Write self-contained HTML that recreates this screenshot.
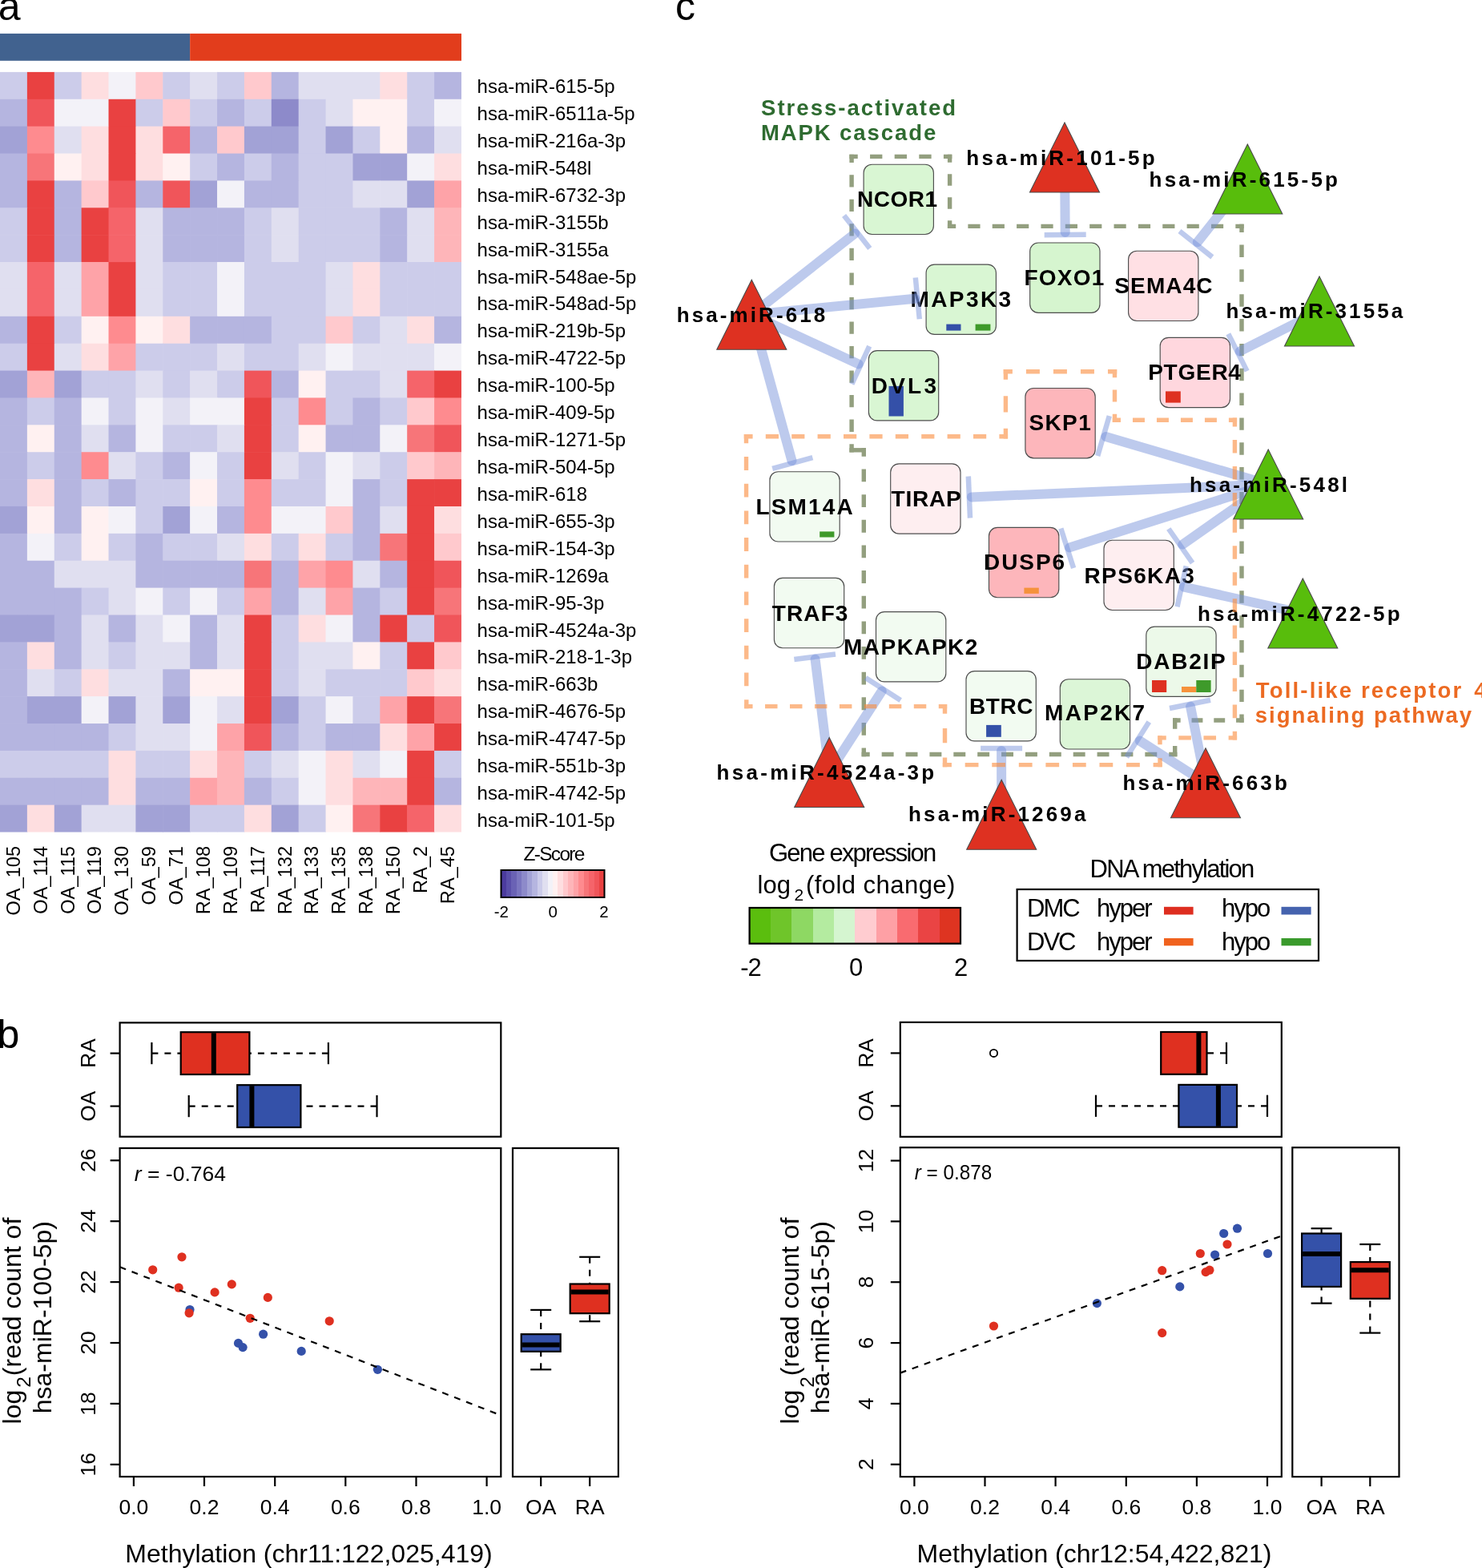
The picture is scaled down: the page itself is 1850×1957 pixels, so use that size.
<!DOCTYPE html>
<html><head><meta charset="utf-8"><title>figure</title>
<style>html,body{margin:0;padding:0;background:#fff;} svg{display:block;}</style></head>
<body><svg width="1850" height="1957" viewBox="0 0 1850 1957">
<rect width="1850" height="1957" fill="#fff"/>
<g>
<rect x="0" y="41.9" width="237.16" height="33.9" fill="#41628f"/>
<rect x="237.16" y="41.9" width="338.84" height="33.9" fill="#e23d1c"/>
<rect x="0.00" y="89.90" width="34.48" height="34.48" fill="#ccccea"/>
<rect x="33.88" y="89.90" width="34.48" height="34.48" fill="#e94141"/>
<rect x="67.76" y="89.90" width="34.48" height="34.48" fill="#ccccea"/>
<rect x="101.64" y="89.90" width="34.48" height="34.48" fill="#fedee0"/>
<rect x="135.52" y="89.90" width="34.48" height="34.48" fill="#f3f2f8"/>
<rect x="169.40" y="89.90" width="34.48" height="34.48" fill="#ffc9cd"/>
<rect x="203.28" y="89.90" width="34.48" height="34.48" fill="#ccccea"/>
<rect x="237.16" y="89.90" width="34.48" height="34.48" fill="#e0dff0"/>
<rect x="271.04" y="89.90" width="34.48" height="34.48" fill="#ccccea"/>
<rect x="304.92" y="89.90" width="34.48" height="34.48" fill="#ffc9cd"/>
<rect x="338.80" y="89.90" width="34.48" height="34.48" fill="#b5b5e0"/>
<rect x="372.68" y="89.90" width="34.48" height="34.48" fill="#e0dff0"/>
<rect x="406.56" y="89.90" width="34.48" height="34.48" fill="#e0dff0"/>
<rect x="440.44" y="89.90" width="34.48" height="34.48" fill="#e0dff0"/>
<rect x="474.32" y="89.90" width="34.48" height="34.48" fill="#fedee0"/>
<rect x="508.20" y="89.90" width="34.48" height="34.48" fill="#ccccea"/>
<rect x="542.08" y="89.90" width="33.88" height="34.48" fill="#b5b5e0"/>
<rect x="0.00" y="123.78" width="34.48" height="34.48" fill="#b5b5e0"/>
<rect x="33.88" y="123.78" width="34.48" height="34.48" fill="#f0555a"/>
<rect x="67.76" y="123.78" width="34.48" height="34.48" fill="#f3f2f8"/>
<rect x="101.64" y="123.78" width="34.48" height="34.48" fill="#f3f2f8"/>
<rect x="135.52" y="123.78" width="34.48" height="34.48" fill="#e94141"/>
<rect x="169.40" y="123.78" width="34.48" height="34.48" fill="#ccccea"/>
<rect x="203.28" y="123.78" width="34.48" height="34.48" fill="#ffc9cd"/>
<rect x="237.16" y="123.78" width="34.48" height="34.48" fill="#ccccea"/>
<rect x="271.04" y="123.78" width="34.48" height="34.48" fill="#b5b5e0"/>
<rect x="304.92" y="123.78" width="34.48" height="34.48" fill="#ccccea"/>
<rect x="338.80" y="123.78" width="34.48" height="34.48" fill="#8d8aca"/>
<rect x="372.68" y="123.78" width="34.48" height="34.48" fill="#ccccea"/>
<rect x="406.56" y="123.78" width="34.48" height="34.48" fill="#e0dff0"/>
<rect x="440.44" y="123.78" width="34.48" height="34.48" fill="#fff1f1"/>
<rect x="474.32" y="123.78" width="34.48" height="34.48" fill="#fff1f1"/>
<rect x="508.20" y="123.78" width="34.48" height="34.48" fill="#ccccea"/>
<rect x="542.08" y="123.78" width="33.88" height="34.48" fill="#f3f2f8"/>
<rect x="0.00" y="157.66" width="34.48" height="34.48" fill="#a2a2d6"/>
<rect x="33.88" y="157.66" width="34.48" height="34.48" fill="#fe8b8f"/>
<rect x="67.76" y="157.66" width="34.48" height="34.48" fill="#e0dff0"/>
<rect x="101.64" y="157.66" width="34.48" height="34.48" fill="#fedee0"/>
<rect x="135.52" y="157.66" width="34.48" height="34.48" fill="#e94141"/>
<rect x="169.40" y="157.66" width="34.48" height="34.48" fill="#fedee0"/>
<rect x="203.28" y="157.66" width="34.48" height="34.48" fill="#f5646a"/>
<rect x="237.16" y="157.66" width="34.48" height="34.48" fill="#b5b5e0"/>
<rect x="271.04" y="157.66" width="34.48" height="34.48" fill="#ffc9cd"/>
<rect x="304.92" y="157.66" width="34.48" height="34.48" fill="#a2a2d6"/>
<rect x="338.80" y="157.66" width="34.48" height="34.48" fill="#a2a2d6"/>
<rect x="372.68" y="157.66" width="34.48" height="34.48" fill="#ccccea"/>
<rect x="406.56" y="157.66" width="34.48" height="34.48" fill="#a2a2d6"/>
<rect x="440.44" y="157.66" width="34.48" height="34.48" fill="#ccccea"/>
<rect x="474.32" y="157.66" width="34.48" height="34.48" fill="#fff1f1"/>
<rect x="508.20" y="157.66" width="34.48" height="34.48" fill="#b5b5e0"/>
<rect x="542.08" y="157.66" width="33.88" height="34.48" fill="#e0dff0"/>
<rect x="0.00" y="191.54" width="34.48" height="34.48" fill="#b5b5e0"/>
<rect x="33.88" y="191.54" width="34.48" height="34.48" fill="#f77579"/>
<rect x="67.76" y="191.54" width="34.48" height="34.48" fill="#fff1f1"/>
<rect x="101.64" y="191.54" width="34.48" height="34.48" fill="#fedee0"/>
<rect x="135.52" y="191.54" width="34.48" height="34.48" fill="#e94141"/>
<rect x="169.40" y="191.54" width="34.48" height="34.48" fill="#fedee0"/>
<rect x="203.28" y="191.54" width="34.48" height="34.48" fill="#fff1f1"/>
<rect x="237.16" y="191.54" width="34.48" height="34.48" fill="#ccccea"/>
<rect x="271.04" y="191.54" width="34.48" height="34.48" fill="#b5b5e0"/>
<rect x="304.92" y="191.54" width="34.48" height="34.48" fill="#ccccea"/>
<rect x="338.80" y="191.54" width="34.48" height="34.48" fill="#b5b5e0"/>
<rect x="372.68" y="191.54" width="34.48" height="34.48" fill="#ccccea"/>
<rect x="406.56" y="191.54" width="34.48" height="34.48" fill="#ccccea"/>
<rect x="440.44" y="191.54" width="34.48" height="34.48" fill="#a2a2d6"/>
<rect x="474.32" y="191.54" width="34.48" height="34.48" fill="#a2a2d6"/>
<rect x="508.20" y="191.54" width="34.48" height="34.48" fill="#f3f2f8"/>
<rect x="542.08" y="191.54" width="33.88" height="34.48" fill="#fedee0"/>
<rect x="0.00" y="225.42" width="34.48" height="34.48" fill="#b5b5e0"/>
<rect x="33.88" y="225.42" width="34.48" height="34.48" fill="#e94141"/>
<rect x="67.76" y="225.42" width="34.48" height="34.48" fill="#b5b5e0"/>
<rect x="101.64" y="225.42" width="34.48" height="34.48" fill="#ffc9cd"/>
<rect x="135.52" y="225.42" width="34.48" height="34.48" fill="#f0555a"/>
<rect x="169.40" y="225.42" width="34.48" height="34.48" fill="#b5b5e0"/>
<rect x="203.28" y="225.42" width="34.48" height="34.48" fill="#f0555a"/>
<rect x="237.16" y="225.42" width="34.48" height="34.48" fill="#a2a2d6"/>
<rect x="271.04" y="225.42" width="34.48" height="34.48" fill="#f3f2f8"/>
<rect x="304.92" y="225.42" width="34.48" height="34.48" fill="#b5b5e0"/>
<rect x="338.80" y="225.42" width="34.48" height="34.48" fill="#b5b5e0"/>
<rect x="372.68" y="225.42" width="34.48" height="34.48" fill="#ccccea"/>
<rect x="406.56" y="225.42" width="34.48" height="34.48" fill="#ccccea"/>
<rect x="440.44" y="225.42" width="34.48" height="34.48" fill="#e0dff0"/>
<rect x="474.32" y="225.42" width="34.48" height="34.48" fill="#e0dff0"/>
<rect x="508.20" y="225.42" width="34.48" height="34.48" fill="#a2a2d6"/>
<rect x="542.08" y="225.42" width="33.88" height="34.48" fill="#fea3a8"/>
<rect x="0.00" y="259.30" width="34.48" height="34.48" fill="#ccccea"/>
<rect x="33.88" y="259.30" width="34.48" height="34.48" fill="#e94141"/>
<rect x="67.76" y="259.30" width="34.48" height="34.48" fill="#b5b5e0"/>
<rect x="101.64" y="259.30" width="34.48" height="34.48" fill="#e94141"/>
<rect x="135.52" y="259.30" width="34.48" height="34.48" fill="#f5646a"/>
<rect x="169.40" y="259.30" width="34.48" height="34.48" fill="#e0dff0"/>
<rect x="203.28" y="259.30" width="34.48" height="34.48" fill="#b5b5e0"/>
<rect x="237.16" y="259.30" width="34.48" height="34.48" fill="#b5b5e0"/>
<rect x="271.04" y="259.30" width="34.48" height="34.48" fill="#b5b5e0"/>
<rect x="304.92" y="259.30" width="34.48" height="34.48" fill="#ccccea"/>
<rect x="338.80" y="259.30" width="34.48" height="34.48" fill="#e0dff0"/>
<rect x="372.68" y="259.30" width="34.48" height="34.48" fill="#ccccea"/>
<rect x="406.56" y="259.30" width="34.48" height="34.48" fill="#ccccea"/>
<rect x="440.44" y="259.30" width="34.48" height="34.48" fill="#ccccea"/>
<rect x="474.32" y="259.30" width="34.48" height="34.48" fill="#b5b5e0"/>
<rect x="508.20" y="259.30" width="34.48" height="34.48" fill="#e0dff0"/>
<rect x="542.08" y="259.30" width="33.88" height="34.48" fill="#feb5b9"/>
<rect x="0.00" y="293.18" width="34.48" height="34.48" fill="#ccccea"/>
<rect x="33.88" y="293.18" width="34.48" height="34.48" fill="#e94141"/>
<rect x="67.76" y="293.18" width="34.48" height="34.48" fill="#b5b5e0"/>
<rect x="101.64" y="293.18" width="34.48" height="34.48" fill="#e94141"/>
<rect x="135.52" y="293.18" width="34.48" height="34.48" fill="#f5646a"/>
<rect x="169.40" y="293.18" width="34.48" height="34.48" fill="#e0dff0"/>
<rect x="203.28" y="293.18" width="34.48" height="34.48" fill="#b5b5e0"/>
<rect x="237.16" y="293.18" width="34.48" height="34.48" fill="#b5b5e0"/>
<rect x="271.04" y="293.18" width="34.48" height="34.48" fill="#b5b5e0"/>
<rect x="304.92" y="293.18" width="34.48" height="34.48" fill="#ccccea"/>
<rect x="338.80" y="293.18" width="34.48" height="34.48" fill="#e0dff0"/>
<rect x="372.68" y="293.18" width="34.48" height="34.48" fill="#ccccea"/>
<rect x="406.56" y="293.18" width="34.48" height="34.48" fill="#ccccea"/>
<rect x="440.44" y="293.18" width="34.48" height="34.48" fill="#ccccea"/>
<rect x="474.32" y="293.18" width="34.48" height="34.48" fill="#b5b5e0"/>
<rect x="508.20" y="293.18" width="34.48" height="34.48" fill="#e0dff0"/>
<rect x="542.08" y="293.18" width="33.88" height="34.48" fill="#feb5b9"/>
<rect x="0.00" y="327.06" width="34.48" height="34.48" fill="#e0dff0"/>
<rect x="33.88" y="327.06" width="34.48" height="34.48" fill="#f5646a"/>
<rect x="67.76" y="327.06" width="34.48" height="34.48" fill="#e0dff0"/>
<rect x="101.64" y="327.06" width="34.48" height="34.48" fill="#fea3a8"/>
<rect x="135.52" y="327.06" width="34.48" height="34.48" fill="#e94141"/>
<rect x="169.40" y="327.06" width="34.48" height="34.48" fill="#e0dff0"/>
<rect x="203.28" y="327.06" width="34.48" height="34.48" fill="#ccccea"/>
<rect x="237.16" y="327.06" width="34.48" height="34.48" fill="#ccccea"/>
<rect x="271.04" y="327.06" width="34.48" height="34.48" fill="#f3f2f8"/>
<rect x="304.92" y="327.06" width="34.48" height="34.48" fill="#ccccea"/>
<rect x="338.80" y="327.06" width="34.48" height="34.48" fill="#ccccea"/>
<rect x="372.68" y="327.06" width="34.48" height="34.48" fill="#ccccea"/>
<rect x="406.56" y="327.06" width="34.48" height="34.48" fill="#e0dff0"/>
<rect x="440.44" y="327.06" width="34.48" height="34.48" fill="#fedee0"/>
<rect x="474.32" y="327.06" width="34.48" height="34.48" fill="#ccccea"/>
<rect x="508.20" y="327.06" width="34.48" height="34.48" fill="#ccccea"/>
<rect x="542.08" y="327.06" width="33.88" height="34.48" fill="#ccccea"/>
<rect x="0.00" y="360.94" width="34.48" height="34.48" fill="#e0dff0"/>
<rect x="33.88" y="360.94" width="34.48" height="34.48" fill="#f5646a"/>
<rect x="67.76" y="360.94" width="34.48" height="34.48" fill="#e0dff0"/>
<rect x="101.64" y="360.94" width="34.48" height="34.48" fill="#fea3a8"/>
<rect x="135.52" y="360.94" width="34.48" height="34.48" fill="#e94141"/>
<rect x="169.40" y="360.94" width="34.48" height="34.48" fill="#e0dff0"/>
<rect x="203.28" y="360.94" width="34.48" height="34.48" fill="#ccccea"/>
<rect x="237.16" y="360.94" width="34.48" height="34.48" fill="#ccccea"/>
<rect x="271.04" y="360.94" width="34.48" height="34.48" fill="#f3f2f8"/>
<rect x="304.92" y="360.94" width="34.48" height="34.48" fill="#ccccea"/>
<rect x="338.80" y="360.94" width="34.48" height="34.48" fill="#ccccea"/>
<rect x="372.68" y="360.94" width="34.48" height="34.48" fill="#ccccea"/>
<rect x="406.56" y="360.94" width="34.48" height="34.48" fill="#e0dff0"/>
<rect x="440.44" y="360.94" width="34.48" height="34.48" fill="#fedee0"/>
<rect x="474.32" y="360.94" width="34.48" height="34.48" fill="#ccccea"/>
<rect x="508.20" y="360.94" width="34.48" height="34.48" fill="#ccccea"/>
<rect x="542.08" y="360.94" width="33.88" height="34.48" fill="#ccccea"/>
<rect x="0.00" y="394.82" width="34.48" height="34.48" fill="#b5b5e0"/>
<rect x="33.88" y="394.82" width="34.48" height="34.48" fill="#e94141"/>
<rect x="67.76" y="394.82" width="34.48" height="34.48" fill="#ccccea"/>
<rect x="101.64" y="394.82" width="34.48" height="34.48" fill="#fff1f1"/>
<rect x="135.52" y="394.82" width="34.48" height="34.48" fill="#fe8b8f"/>
<rect x="169.40" y="394.82" width="34.48" height="34.48" fill="#fff1f1"/>
<rect x="203.28" y="394.82" width="34.48" height="34.48" fill="#fedee0"/>
<rect x="237.16" y="394.82" width="34.48" height="34.48" fill="#b5b5e0"/>
<rect x="271.04" y="394.82" width="34.48" height="34.48" fill="#b5b5e0"/>
<rect x="304.92" y="394.82" width="34.48" height="34.48" fill="#b5b5e0"/>
<rect x="338.80" y="394.82" width="34.48" height="34.48" fill="#ccccea"/>
<rect x="372.68" y="394.82" width="34.48" height="34.48" fill="#ccccea"/>
<rect x="406.56" y="394.82" width="34.48" height="34.48" fill="#ffc9cd"/>
<rect x="440.44" y="394.82" width="34.48" height="34.48" fill="#ccccea"/>
<rect x="474.32" y="394.82" width="34.48" height="34.48" fill="#e0dff0"/>
<rect x="508.20" y="394.82" width="34.48" height="34.48" fill="#fedee0"/>
<rect x="542.08" y="394.82" width="33.88" height="34.48" fill="#b5b5e0"/>
<rect x="0.00" y="428.70" width="34.48" height="34.48" fill="#ccccea"/>
<rect x="33.88" y="428.70" width="34.48" height="34.48" fill="#e94141"/>
<rect x="67.76" y="428.70" width="34.48" height="34.48" fill="#e0dff0"/>
<rect x="101.64" y="428.70" width="34.48" height="34.48" fill="#fedee0"/>
<rect x="135.52" y="428.70" width="34.48" height="34.48" fill="#fea3a8"/>
<rect x="169.40" y="428.70" width="34.48" height="34.48" fill="#ccccea"/>
<rect x="203.28" y="428.70" width="34.48" height="34.48" fill="#ccccea"/>
<rect x="237.16" y="428.70" width="34.48" height="34.48" fill="#ccccea"/>
<rect x="271.04" y="428.70" width="34.48" height="34.48" fill="#e0dff0"/>
<rect x="304.92" y="428.70" width="34.48" height="34.48" fill="#ccccea"/>
<rect x="338.80" y="428.70" width="34.48" height="34.48" fill="#ccccea"/>
<rect x="372.68" y="428.70" width="34.48" height="34.48" fill="#e0dff0"/>
<rect x="406.56" y="428.70" width="34.48" height="34.48" fill="#f3f2f8"/>
<rect x="440.44" y="428.70" width="34.48" height="34.48" fill="#e0dff0"/>
<rect x="474.32" y="428.70" width="34.48" height="34.48" fill="#e0dff0"/>
<rect x="508.20" y="428.70" width="34.48" height="34.48" fill="#e0dff0"/>
<rect x="542.08" y="428.70" width="33.88" height="34.48" fill="#f3f2f8"/>
<rect x="0.00" y="462.58" width="34.48" height="34.48" fill="#a2a2d6"/>
<rect x="33.88" y="462.58" width="34.48" height="34.48" fill="#feb5b9"/>
<rect x="67.76" y="462.58" width="34.48" height="34.48" fill="#a2a2d6"/>
<rect x="101.64" y="462.58" width="34.48" height="34.48" fill="#ccccea"/>
<rect x="135.52" y="462.58" width="34.48" height="34.48" fill="#ccccea"/>
<rect x="169.40" y="462.58" width="34.48" height="34.48" fill="#e0dff0"/>
<rect x="203.28" y="462.58" width="34.48" height="34.48" fill="#ccccea"/>
<rect x="237.16" y="462.58" width="34.48" height="34.48" fill="#e0dff0"/>
<rect x="271.04" y="462.58" width="34.48" height="34.48" fill="#ccccea"/>
<rect x="304.92" y="462.58" width="34.48" height="34.48" fill="#f0555a"/>
<rect x="338.80" y="462.58" width="34.48" height="34.48" fill="#b5b5e0"/>
<rect x="372.68" y="462.58" width="34.48" height="34.48" fill="#fff1f1"/>
<rect x="406.56" y="462.58" width="34.48" height="34.48" fill="#ccccea"/>
<rect x="440.44" y="462.58" width="34.48" height="34.48" fill="#ccccea"/>
<rect x="474.32" y="462.58" width="34.48" height="34.48" fill="#e0dff0"/>
<rect x="508.20" y="462.58" width="34.48" height="34.48" fill="#f5646a"/>
<rect x="542.08" y="462.58" width="33.88" height="34.48" fill="#e94141"/>
<rect x="0.00" y="496.46" width="34.48" height="34.48" fill="#b5b5e0"/>
<rect x="33.88" y="496.46" width="34.48" height="34.48" fill="#ccccea"/>
<rect x="67.76" y="496.46" width="34.48" height="34.48" fill="#b5b5e0"/>
<rect x="101.64" y="496.46" width="34.48" height="34.48" fill="#f3f2f8"/>
<rect x="135.52" y="496.46" width="34.48" height="34.48" fill="#ccccea"/>
<rect x="169.40" y="496.46" width="34.48" height="34.48" fill="#f3f2f8"/>
<rect x="203.28" y="496.46" width="34.48" height="34.48" fill="#e0dff0"/>
<rect x="237.16" y="496.46" width="34.48" height="34.48" fill="#f3f2f8"/>
<rect x="271.04" y="496.46" width="34.48" height="34.48" fill="#f3f2f8"/>
<rect x="304.92" y="496.46" width="34.48" height="34.48" fill="#e94141"/>
<rect x="338.80" y="496.46" width="34.48" height="34.48" fill="#ccccea"/>
<rect x="372.68" y="496.46" width="34.48" height="34.48" fill="#fe8b8f"/>
<rect x="406.56" y="496.46" width="34.48" height="34.48" fill="#ccccea"/>
<rect x="440.44" y="496.46" width="34.48" height="34.48" fill="#b5b5e0"/>
<rect x="474.32" y="496.46" width="34.48" height="34.48" fill="#ccccea"/>
<rect x="508.20" y="496.46" width="34.48" height="34.48" fill="#ffc9cd"/>
<rect x="542.08" y="496.46" width="33.88" height="34.48" fill="#fe8b8f"/>
<rect x="0.00" y="530.34" width="34.48" height="34.48" fill="#b5b5e0"/>
<rect x="33.88" y="530.34" width="34.48" height="34.48" fill="#fff1f1"/>
<rect x="67.76" y="530.34" width="34.48" height="34.48" fill="#b5b5e0"/>
<rect x="101.64" y="530.34" width="34.48" height="34.48" fill="#e0dff0"/>
<rect x="135.52" y="530.34" width="34.48" height="34.48" fill="#b5b5e0"/>
<rect x="169.40" y="530.34" width="34.48" height="34.48" fill="#f3f2f8"/>
<rect x="203.28" y="530.34" width="34.48" height="34.48" fill="#ccccea"/>
<rect x="237.16" y="530.34" width="34.48" height="34.48" fill="#ccccea"/>
<rect x="271.04" y="530.34" width="34.48" height="34.48" fill="#e0dff0"/>
<rect x="304.92" y="530.34" width="34.48" height="34.48" fill="#e94141"/>
<rect x="338.80" y="530.34" width="34.48" height="34.48" fill="#ccccea"/>
<rect x="372.68" y="530.34" width="34.48" height="34.48" fill="#fff1f1"/>
<rect x="406.56" y="530.34" width="34.48" height="34.48" fill="#b5b5e0"/>
<rect x="440.44" y="530.34" width="34.48" height="34.48" fill="#b5b5e0"/>
<rect x="474.32" y="530.34" width="34.48" height="34.48" fill="#f3f2f8"/>
<rect x="508.20" y="530.34" width="34.48" height="34.48" fill="#f77579"/>
<rect x="542.08" y="530.34" width="33.88" height="34.48" fill="#f0555a"/>
<rect x="0.00" y="564.22" width="34.48" height="34.48" fill="#b5b5e0"/>
<rect x="33.88" y="564.22" width="34.48" height="34.48" fill="#ccccea"/>
<rect x="67.76" y="564.22" width="34.48" height="34.48" fill="#b5b5e0"/>
<rect x="101.64" y="564.22" width="34.48" height="34.48" fill="#fe8b8f"/>
<rect x="135.52" y="564.22" width="34.48" height="34.48" fill="#e0dff0"/>
<rect x="169.40" y="564.22" width="34.48" height="34.48" fill="#ccccea"/>
<rect x="203.28" y="564.22" width="34.48" height="34.48" fill="#b5b5e0"/>
<rect x="237.16" y="564.22" width="34.48" height="34.48" fill="#f3f2f8"/>
<rect x="271.04" y="564.22" width="34.48" height="34.48" fill="#ccccea"/>
<rect x="304.92" y="564.22" width="34.48" height="34.48" fill="#e94141"/>
<rect x="338.80" y="564.22" width="34.48" height="34.48" fill="#e0dff0"/>
<rect x="372.68" y="564.22" width="34.48" height="34.48" fill="#ccccea"/>
<rect x="406.56" y="564.22" width="34.48" height="34.48" fill="#f3f2f8"/>
<rect x="440.44" y="564.22" width="34.48" height="34.48" fill="#e0dff0"/>
<rect x="474.32" y="564.22" width="34.48" height="34.48" fill="#ccccea"/>
<rect x="508.20" y="564.22" width="34.48" height="34.48" fill="#ffc9cd"/>
<rect x="542.08" y="564.22" width="33.88" height="34.48" fill="#feb5b9"/>
<rect x="0.00" y="598.10" width="34.48" height="34.48" fill="#b5b5e0"/>
<rect x="33.88" y="598.10" width="34.48" height="34.48" fill="#fedee0"/>
<rect x="67.76" y="598.10" width="34.48" height="34.48" fill="#b5b5e0"/>
<rect x="101.64" y="598.10" width="34.48" height="34.48" fill="#ccccea"/>
<rect x="135.52" y="598.10" width="34.48" height="34.48" fill="#b5b5e0"/>
<rect x="169.40" y="598.10" width="34.48" height="34.48" fill="#ccccea"/>
<rect x="203.28" y="598.10" width="34.48" height="34.48" fill="#ccccea"/>
<rect x="237.16" y="598.10" width="34.48" height="34.48" fill="#fff1f1"/>
<rect x="271.04" y="598.10" width="34.48" height="34.48" fill="#ccccea"/>
<rect x="304.92" y="598.10" width="34.48" height="34.48" fill="#fe8b8f"/>
<rect x="338.80" y="598.10" width="34.48" height="34.48" fill="#ccccea"/>
<rect x="372.68" y="598.10" width="34.48" height="34.48" fill="#ccccea"/>
<rect x="406.56" y="598.10" width="34.48" height="34.48" fill="#f3f2f8"/>
<rect x="440.44" y="598.10" width="34.48" height="34.48" fill="#b5b5e0"/>
<rect x="474.32" y="598.10" width="34.48" height="34.48" fill="#ccccea"/>
<rect x="508.20" y="598.10" width="34.48" height="34.48" fill="#e94141"/>
<rect x="542.08" y="598.10" width="33.88" height="34.48" fill="#e94141"/>
<rect x="0.00" y="631.98" width="34.48" height="34.48" fill="#a2a2d6"/>
<rect x="33.88" y="631.98" width="34.48" height="34.48" fill="#fff1f1"/>
<rect x="67.76" y="631.98" width="34.48" height="34.48" fill="#b5b5e0"/>
<rect x="101.64" y="631.98" width="34.48" height="34.48" fill="#fff1f1"/>
<rect x="135.52" y="631.98" width="34.48" height="34.48" fill="#f3f2f8"/>
<rect x="169.40" y="631.98" width="34.48" height="34.48" fill="#ccccea"/>
<rect x="203.28" y="631.98" width="34.48" height="34.48" fill="#a2a2d6"/>
<rect x="237.16" y="631.98" width="34.48" height="34.48" fill="#f3f2f8"/>
<rect x="271.04" y="631.98" width="34.48" height="34.48" fill="#b5b5e0"/>
<rect x="304.92" y="631.98" width="34.48" height="34.48" fill="#fe8b8f"/>
<rect x="338.80" y="631.98" width="34.48" height="34.48" fill="#f3f2f8"/>
<rect x="372.68" y="631.98" width="34.48" height="34.48" fill="#f3f2f8"/>
<rect x="406.56" y="631.98" width="34.48" height="34.48" fill="#ffc9cd"/>
<rect x="440.44" y="631.98" width="34.48" height="34.48" fill="#b5b5e0"/>
<rect x="474.32" y="631.98" width="34.48" height="34.48" fill="#e0dff0"/>
<rect x="508.20" y="631.98" width="34.48" height="34.48" fill="#e94141"/>
<rect x="542.08" y="631.98" width="33.88" height="34.48" fill="#fedee0"/>
<rect x="0.00" y="665.86" width="34.48" height="34.48" fill="#b5b5e0"/>
<rect x="33.88" y="665.86" width="34.48" height="34.48" fill="#f3f2f8"/>
<rect x="67.76" y="665.86" width="34.48" height="34.48" fill="#ccccea"/>
<rect x="101.64" y="665.86" width="34.48" height="34.48" fill="#fff1f1"/>
<rect x="135.52" y="665.86" width="34.48" height="34.48" fill="#ccccea"/>
<rect x="169.40" y="665.86" width="34.48" height="34.48" fill="#b5b5e0"/>
<rect x="203.28" y="665.86" width="34.48" height="34.48" fill="#ccccea"/>
<rect x="237.16" y="665.86" width="34.48" height="34.48" fill="#ccccea"/>
<rect x="271.04" y="665.86" width="34.48" height="34.48" fill="#e0dff0"/>
<rect x="304.92" y="665.86" width="34.48" height="34.48" fill="#fedee0"/>
<rect x="338.80" y="665.86" width="34.48" height="34.48" fill="#ccccea"/>
<rect x="372.68" y="665.86" width="34.48" height="34.48" fill="#fedee0"/>
<rect x="406.56" y="665.86" width="34.48" height="34.48" fill="#ccccea"/>
<rect x="440.44" y="665.86" width="34.48" height="34.48" fill="#b5b5e0"/>
<rect x="474.32" y="665.86" width="34.48" height="34.48" fill="#f77579"/>
<rect x="508.20" y="665.86" width="34.48" height="34.48" fill="#e94141"/>
<rect x="542.08" y="665.86" width="33.88" height="34.48" fill="#ffc9cd"/>
<rect x="0.00" y="699.74" width="34.48" height="34.48" fill="#b5b5e0"/>
<rect x="33.88" y="699.74" width="34.48" height="34.48" fill="#b5b5e0"/>
<rect x="67.76" y="699.74" width="34.48" height="34.48" fill="#e0dff0"/>
<rect x="101.64" y="699.74" width="34.48" height="34.48" fill="#e0dff0"/>
<rect x="135.52" y="699.74" width="34.48" height="34.48" fill="#e0dff0"/>
<rect x="169.40" y="699.74" width="34.48" height="34.48" fill="#b5b5e0"/>
<rect x="203.28" y="699.74" width="34.48" height="34.48" fill="#b5b5e0"/>
<rect x="237.16" y="699.74" width="34.48" height="34.48" fill="#b5b5e0"/>
<rect x="271.04" y="699.74" width="34.48" height="34.48" fill="#b5b5e0"/>
<rect x="304.92" y="699.74" width="34.48" height="34.48" fill="#f77579"/>
<rect x="338.80" y="699.74" width="34.48" height="34.48" fill="#b5b5e0"/>
<rect x="372.68" y="699.74" width="34.48" height="34.48" fill="#fea3a8"/>
<rect x="406.56" y="699.74" width="34.48" height="34.48" fill="#fe8b8f"/>
<rect x="440.44" y="699.74" width="34.48" height="34.48" fill="#e0dff0"/>
<rect x="474.32" y="699.74" width="34.48" height="34.48" fill="#b5b5e0"/>
<rect x="508.20" y="699.74" width="34.48" height="34.48" fill="#e94141"/>
<rect x="542.08" y="699.74" width="33.88" height="34.48" fill="#f0555a"/>
<rect x="0.00" y="733.62" width="34.48" height="34.48" fill="#b5b5e0"/>
<rect x="33.88" y="733.62" width="34.48" height="34.48" fill="#b5b5e0"/>
<rect x="67.76" y="733.62" width="34.48" height="34.48" fill="#b5b5e0"/>
<rect x="101.64" y="733.62" width="34.48" height="34.48" fill="#ccccea"/>
<rect x="135.52" y="733.62" width="34.48" height="34.48" fill="#e0dff0"/>
<rect x="169.40" y="733.62" width="34.48" height="34.48" fill="#f3f2f8"/>
<rect x="203.28" y="733.62" width="34.48" height="34.48" fill="#ccccea"/>
<rect x="237.16" y="733.62" width="34.48" height="34.48" fill="#f3f2f8"/>
<rect x="271.04" y="733.62" width="34.48" height="34.48" fill="#ccccea"/>
<rect x="304.92" y="733.62" width="34.48" height="34.48" fill="#fea3a8"/>
<rect x="338.80" y="733.62" width="34.48" height="34.48" fill="#b5b5e0"/>
<rect x="372.68" y="733.62" width="34.48" height="34.48" fill="#e0dff0"/>
<rect x="406.56" y="733.62" width="34.48" height="34.48" fill="#fea3a8"/>
<rect x="440.44" y="733.62" width="34.48" height="34.48" fill="#b5b5e0"/>
<rect x="474.32" y="733.62" width="34.48" height="34.48" fill="#ccccea"/>
<rect x="508.20" y="733.62" width="34.48" height="34.48" fill="#e94141"/>
<rect x="542.08" y="733.62" width="33.88" height="34.48" fill="#f77579"/>
<rect x="0.00" y="767.50" width="34.48" height="34.48" fill="#a2a2d6"/>
<rect x="33.88" y="767.50" width="34.48" height="34.48" fill="#a2a2d6"/>
<rect x="67.76" y="767.50" width="34.48" height="34.48" fill="#b5b5e0"/>
<rect x="101.64" y="767.50" width="34.48" height="34.48" fill="#e0dff0"/>
<rect x="135.52" y="767.50" width="34.48" height="34.48" fill="#b5b5e0"/>
<rect x="169.40" y="767.50" width="34.48" height="34.48" fill="#e0dff0"/>
<rect x="203.28" y="767.50" width="34.48" height="34.48" fill="#f3f2f8"/>
<rect x="237.16" y="767.50" width="34.48" height="34.48" fill="#b5b5e0"/>
<rect x="271.04" y="767.50" width="34.48" height="34.48" fill="#e0dff0"/>
<rect x="304.92" y="767.50" width="34.48" height="34.48" fill="#e94141"/>
<rect x="338.80" y="767.50" width="34.48" height="34.48" fill="#ccccea"/>
<rect x="372.68" y="767.50" width="34.48" height="34.48" fill="#fedee0"/>
<rect x="406.56" y="767.50" width="34.48" height="34.48" fill="#f3f2f8"/>
<rect x="440.44" y="767.50" width="34.48" height="34.48" fill="#b5b5e0"/>
<rect x="474.32" y="767.50" width="34.48" height="34.48" fill="#e94141"/>
<rect x="508.20" y="767.50" width="34.48" height="34.48" fill="#ccccea"/>
<rect x="542.08" y="767.50" width="33.88" height="34.48" fill="#f0555a"/>
<rect x="0.00" y="801.38" width="34.48" height="34.48" fill="#b5b5e0"/>
<rect x="33.88" y="801.38" width="34.48" height="34.48" fill="#fedee0"/>
<rect x="67.76" y="801.38" width="34.48" height="34.48" fill="#b5b5e0"/>
<rect x="101.64" y="801.38" width="34.48" height="34.48" fill="#e0dff0"/>
<rect x="135.52" y="801.38" width="34.48" height="34.48" fill="#ccccea"/>
<rect x="169.40" y="801.38" width="34.48" height="34.48" fill="#e0dff0"/>
<rect x="203.28" y="801.38" width="34.48" height="34.48" fill="#e0dff0"/>
<rect x="237.16" y="801.38" width="34.48" height="34.48" fill="#b5b5e0"/>
<rect x="271.04" y="801.38" width="34.48" height="34.48" fill="#e0dff0"/>
<rect x="304.92" y="801.38" width="34.48" height="34.48" fill="#e94141"/>
<rect x="338.80" y="801.38" width="34.48" height="34.48" fill="#ccccea"/>
<rect x="372.68" y="801.38" width="34.48" height="34.48" fill="#e0dff0"/>
<rect x="406.56" y="801.38" width="34.48" height="34.48" fill="#e0dff0"/>
<rect x="440.44" y="801.38" width="34.48" height="34.48" fill="#fff1f1"/>
<rect x="474.32" y="801.38" width="34.48" height="34.48" fill="#ccccea"/>
<rect x="508.20" y="801.38" width="34.48" height="34.48" fill="#e94141"/>
<rect x="542.08" y="801.38" width="33.88" height="34.48" fill="#ffc9cd"/>
<rect x="0.00" y="835.26" width="34.48" height="34.48" fill="#b5b5e0"/>
<rect x="33.88" y="835.26" width="34.48" height="34.48" fill="#e0dff0"/>
<rect x="67.76" y="835.26" width="34.48" height="34.48" fill="#ccccea"/>
<rect x="101.64" y="835.26" width="34.48" height="34.48" fill="#fedee0"/>
<rect x="135.52" y="835.26" width="34.48" height="34.48" fill="#e0dff0"/>
<rect x="169.40" y="835.26" width="34.48" height="34.48" fill="#e0dff0"/>
<rect x="203.28" y="835.26" width="34.48" height="34.48" fill="#b5b5e0"/>
<rect x="237.16" y="835.26" width="34.48" height="34.48" fill="#fff1f1"/>
<rect x="271.04" y="835.26" width="34.48" height="34.48" fill="#fff1f1"/>
<rect x="304.92" y="835.26" width="34.48" height="34.48" fill="#e94141"/>
<rect x="338.80" y="835.26" width="34.48" height="34.48" fill="#ccccea"/>
<rect x="372.68" y="835.26" width="34.48" height="34.48" fill="#e0dff0"/>
<rect x="406.56" y="835.26" width="34.48" height="34.48" fill="#ccccea"/>
<rect x="440.44" y="835.26" width="34.48" height="34.48" fill="#ccccea"/>
<rect x="474.32" y="835.26" width="34.48" height="34.48" fill="#ccccea"/>
<rect x="508.20" y="835.26" width="34.48" height="34.48" fill="#ffc9cd"/>
<rect x="542.08" y="835.26" width="33.88" height="34.48" fill="#fedee0"/>
<rect x="0.00" y="869.14" width="34.48" height="34.48" fill="#b5b5e0"/>
<rect x="33.88" y="869.14" width="34.48" height="34.48" fill="#a2a2d6"/>
<rect x="67.76" y="869.14" width="34.48" height="34.48" fill="#a2a2d6"/>
<rect x="101.64" y="869.14" width="34.48" height="34.48" fill="#f3f2f8"/>
<rect x="135.52" y="869.14" width="34.48" height="34.48" fill="#a2a2d6"/>
<rect x="169.40" y="869.14" width="34.48" height="34.48" fill="#e0dff0"/>
<rect x="203.28" y="869.14" width="34.48" height="34.48" fill="#a2a2d6"/>
<rect x="237.16" y="869.14" width="34.48" height="34.48" fill="#f3f2f8"/>
<rect x="271.04" y="869.14" width="34.48" height="34.48" fill="#e0dff0"/>
<rect x="304.92" y="869.14" width="34.48" height="34.48" fill="#e94141"/>
<rect x="338.80" y="869.14" width="34.48" height="34.48" fill="#a2a2d6"/>
<rect x="372.68" y="869.14" width="34.48" height="34.48" fill="#ccccea"/>
<rect x="406.56" y="869.14" width="34.48" height="34.48" fill="#f3f2f8"/>
<rect x="440.44" y="869.14" width="34.48" height="34.48" fill="#ccccea"/>
<rect x="474.32" y="869.14" width="34.48" height="34.48" fill="#fea3a8"/>
<rect x="508.20" y="869.14" width="34.48" height="34.48" fill="#e94141"/>
<rect x="542.08" y="869.14" width="33.88" height="34.48" fill="#f77579"/>
<rect x="0.00" y="903.02" width="34.48" height="34.48" fill="#b5b5e0"/>
<rect x="33.88" y="903.02" width="34.48" height="34.48" fill="#b5b5e0"/>
<rect x="67.76" y="903.02" width="34.48" height="34.48" fill="#b5b5e0"/>
<rect x="101.64" y="903.02" width="34.48" height="34.48" fill="#b5b5e0"/>
<rect x="135.52" y="903.02" width="34.48" height="34.48" fill="#ccccea"/>
<rect x="169.40" y="903.02" width="34.48" height="34.48" fill="#e0dff0"/>
<rect x="203.28" y="903.02" width="34.48" height="34.48" fill="#e0dff0"/>
<rect x="237.16" y="903.02" width="34.48" height="34.48" fill="#f3f2f8"/>
<rect x="271.04" y="903.02" width="34.48" height="34.48" fill="#fea3a8"/>
<rect x="304.92" y="903.02" width="34.48" height="34.48" fill="#f0555a"/>
<rect x="338.80" y="903.02" width="34.48" height="34.48" fill="#b5b5e0"/>
<rect x="372.68" y="903.02" width="34.48" height="34.48" fill="#ccccea"/>
<rect x="406.56" y="903.02" width="34.48" height="34.48" fill="#b5b5e0"/>
<rect x="440.44" y="903.02" width="34.48" height="34.48" fill="#b5b5e0"/>
<rect x="474.32" y="903.02" width="34.48" height="34.48" fill="#fedee0"/>
<rect x="508.20" y="903.02" width="34.48" height="34.48" fill="#fea3a8"/>
<rect x="542.08" y="903.02" width="33.88" height="34.48" fill="#e94141"/>
<rect x="0.00" y="936.90" width="34.48" height="34.48" fill="#ccccea"/>
<rect x="33.88" y="936.90" width="34.48" height="34.48" fill="#ccccea"/>
<rect x="67.76" y="936.90" width="34.48" height="34.48" fill="#ccccea"/>
<rect x="101.64" y="936.90" width="34.48" height="34.48" fill="#ccccea"/>
<rect x="135.52" y="936.90" width="34.48" height="34.48" fill="#fedee0"/>
<rect x="169.40" y="936.90" width="34.48" height="34.48" fill="#ccccea"/>
<rect x="203.28" y="936.90" width="34.48" height="34.48" fill="#ccccea"/>
<rect x="237.16" y="936.90" width="34.48" height="34.48" fill="#fedee0"/>
<rect x="271.04" y="936.90" width="34.48" height="34.48" fill="#feb5b9"/>
<rect x="304.92" y="936.90" width="34.48" height="34.48" fill="#ccccea"/>
<rect x="338.80" y="936.90" width="34.48" height="34.48" fill="#e0dff0"/>
<rect x="372.68" y="936.90" width="34.48" height="34.48" fill="#f3f2f8"/>
<rect x="406.56" y="936.90" width="34.48" height="34.48" fill="#fedee0"/>
<rect x="440.44" y="936.90" width="34.48" height="34.48" fill="#e0dff0"/>
<rect x="474.32" y="936.90" width="34.48" height="34.48" fill="#f3f2f8"/>
<rect x="508.20" y="936.90" width="34.48" height="34.48" fill="#e94141"/>
<rect x="542.08" y="936.90" width="33.88" height="34.48" fill="#ccccea"/>
<rect x="0.00" y="970.78" width="34.48" height="34.48" fill="#b5b5e0"/>
<rect x="33.88" y="970.78" width="34.48" height="34.48" fill="#b5b5e0"/>
<rect x="67.76" y="970.78" width="34.48" height="34.48" fill="#b5b5e0"/>
<rect x="101.64" y="970.78" width="34.48" height="34.48" fill="#b5b5e0"/>
<rect x="135.52" y="970.78" width="34.48" height="34.48" fill="#fedee0"/>
<rect x="169.40" y="970.78" width="34.48" height="34.48" fill="#b5b5e0"/>
<rect x="203.28" y="970.78" width="34.48" height="34.48" fill="#b5b5e0"/>
<rect x="237.16" y="970.78" width="34.48" height="34.48" fill="#fea3a8"/>
<rect x="271.04" y="970.78" width="34.48" height="34.48" fill="#feb5b9"/>
<rect x="304.92" y="970.78" width="34.48" height="34.48" fill="#b5b5e0"/>
<rect x="338.80" y="970.78" width="34.48" height="34.48" fill="#ccccea"/>
<rect x="372.68" y="970.78" width="34.48" height="34.48" fill="#f3f2f8"/>
<rect x="406.56" y="970.78" width="34.48" height="34.48" fill="#fedee0"/>
<rect x="440.44" y="970.78" width="34.48" height="34.48" fill="#feb5b9"/>
<rect x="474.32" y="970.78" width="34.48" height="34.48" fill="#feb5b9"/>
<rect x="508.20" y="970.78" width="34.48" height="34.48" fill="#e94141"/>
<rect x="542.08" y="970.78" width="33.88" height="34.48" fill="#b5b5e0"/>
<rect x="0.00" y="1004.66" width="34.48" height="33.88" fill="#a2a2d6"/>
<rect x="33.88" y="1004.66" width="34.48" height="33.88" fill="#fedee0"/>
<rect x="67.76" y="1004.66" width="34.48" height="33.88" fill="#a2a2d6"/>
<rect x="101.64" y="1004.66" width="34.48" height="33.88" fill="#e0dff0"/>
<rect x="135.52" y="1004.66" width="34.48" height="33.88" fill="#e0dff0"/>
<rect x="169.40" y="1004.66" width="34.48" height="33.88" fill="#a2a2d6"/>
<rect x="203.28" y="1004.66" width="34.48" height="33.88" fill="#a2a2d6"/>
<rect x="237.16" y="1004.66" width="34.48" height="33.88" fill="#ccccea"/>
<rect x="271.04" y="1004.66" width="34.48" height="33.88" fill="#ccccea"/>
<rect x="304.92" y="1004.66" width="34.48" height="33.88" fill="#fedee0"/>
<rect x="338.80" y="1004.66" width="34.48" height="33.88" fill="#a2a2d6"/>
<rect x="372.68" y="1004.66" width="34.48" height="33.88" fill="#ccccea"/>
<rect x="406.56" y="1004.66" width="34.48" height="33.88" fill="#fff1f1"/>
<rect x="440.44" y="1004.66" width="34.48" height="33.88" fill="#f77579"/>
<rect x="474.32" y="1004.66" width="34.48" height="33.88" fill="#e94141"/>
<rect x="508.20" y="1004.66" width="34.48" height="33.88" fill="#f5646a"/>
<rect x="542.08" y="1004.66" width="33.88" height="33.88" fill="#fedee0"/>
</g>
<g font-family="'Liberation Sans', Arial, Helvetica, sans-serif" font-size="24" fill="#000">
<text x="595.6" y="116.0">hsa-miR-615-5p</text>
<text x="595.6" y="149.9">hsa-miR-6511a-5p</text>
<text x="595.6" y="183.8">hsa-miR-216a-3p</text>
<text x="595.6" y="217.8">hsa-miR-548l</text>
<text x="595.6" y="251.7">hsa-miR-6732-3p</text>
<text x="595.6" y="285.6">hsa-miR-3155b</text>
<text x="595.6" y="319.5">hsa-miR-3155a</text>
<text x="595.6" y="353.5">hsa-miR-548ae-5p</text>
<text x="595.6" y="387.4">hsa-miR-548ad-5p</text>
<text x="595.6" y="421.3">hsa-miR-219b-5p</text>
<text x="595.6" y="455.2">hsa-miR-4722-5p</text>
<text x="595.6" y="489.2">hsa-miR-100-5p</text>
<text x="595.6" y="523.1">hsa-miR-409-5p</text>
<text x="595.6" y="557.0">hsa-miR-1271-5p</text>
<text x="595.6" y="590.9">hsa-miR-504-5p</text>
<text x="595.6" y="624.9">hsa-miR-618</text>
<text x="595.6" y="658.8">hsa-miR-655-3p</text>
<text x="595.6" y="692.7">hsa-miR-154-3p</text>
<text x="595.6" y="726.6">hsa-miR-1269a</text>
<text x="595.6" y="760.6">hsa-miR-95-3p</text>
<text x="595.6" y="794.5">hsa-miR-4524a-3p</text>
<text x="595.6" y="828.4">hsa-miR-218-1-3p</text>
<text x="595.6" y="862.3">hsa-miR-663b</text>
<text x="595.6" y="896.3">hsa-miR-4676-5p</text>
<text x="595.6" y="930.2">hsa-miR-4747-5p</text>
<text x="595.6" y="964.1">hsa-miR-551b-3p</text>
<text x="595.6" y="998.0">hsa-miR-4742-5p</text>
<text x="595.6" y="1031.9">hsa-miR-101-5p</text>
</g>
<g font-family="'Liberation Sans', Arial, Helvetica, sans-serif" font-size="23.6" fill="#000" text-anchor="end">
<text transform="translate(24.7,1056) rotate(-90)">OA_105</text>
<text transform="translate(58.6,1056) rotate(-90)">OA_114</text>
<text transform="translate(92.5,1056) rotate(-90)">OA_115</text>
<text transform="translate(126.4,1056) rotate(-90)">OA_119</text>
<text transform="translate(160.3,1056) rotate(-90)">OA_130</text>
<text transform="translate(194.1,1056) rotate(-90)">OA_59</text>
<text transform="translate(228.0,1056) rotate(-90)">OA_71</text>
<text transform="translate(261.9,1056) rotate(-90)">RA_108</text>
<text transform="translate(295.8,1056) rotate(-90)">RA_109</text>
<text transform="translate(329.7,1056) rotate(-90)">RA_117</text>
<text transform="translate(363.5,1056) rotate(-90)">RA_132</text>
<text transform="translate(397.4,1056) rotate(-90)">RA_133</text>
<text transform="translate(431.3,1056) rotate(-90)">RA_135</text>
<text transform="translate(465.2,1056) rotate(-90)">RA_138</text>
<text transform="translate(499.1,1056) rotate(-90)">RA_150</text>
<text transform="translate(532.9,1056) rotate(-90)">RA_2</text>
<text transform="translate(566.8,1056) rotate(-90)">RA_45</text>
</g>
<text x="691.1" y="1073.7" font-family="'Liberation Sans', Arial, Helvetica, sans-serif" font-size="24.5" text-anchor="middle" letter-spacing="-1.7">Z-Score</text>
<g shape-rendering="crispEdges">
<rect x="625.50" y="1086" width="6.85" height="34" fill="#4b3b9e"/>
<rect x="631.95" y="1086" width="6.85" height="34" fill="#5a4faa"/>
<rect x="638.40" y="1086" width="6.85" height="34" fill="#6a62b5"/>
<rect x="644.85" y="1086" width="6.85" height="34" fill="#7b76c0"/>
<rect x="651.30" y="1086" width="6.85" height="34" fill="#8d8aca"/>
<rect x="657.75" y="1086" width="6.85" height="34" fill="#a2a2d6"/>
<rect x="664.20" y="1086" width="6.85" height="34" fill="#b5b5e0"/>
<rect x="670.65" y="1086" width="6.85" height="34" fill="#ccccea"/>
<rect x="677.10" y="1086" width="6.85" height="34" fill="#e0dff0"/>
<rect x="683.55" y="1086" width="6.85" height="34" fill="#f3f2f8"/>
<rect x="690.00" y="1086" width="6.85" height="34" fill="#fff1f1"/>
<rect x="696.45" y="1086" width="6.85" height="34" fill="#fedee0"/>
<rect x="702.90" y="1086" width="6.85" height="34" fill="#ffc9cd"/>
<rect x="709.35" y="1086" width="6.85" height="34" fill="#feb5b9"/>
<rect x="715.80" y="1086" width="6.85" height="34" fill="#fea3a8"/>
<rect x="722.25" y="1086" width="6.85" height="34" fill="#fe8b8f"/>
<rect x="728.70" y="1086" width="6.85" height="34" fill="#f77579"/>
<rect x="735.15" y="1086" width="6.85" height="34" fill="#f5646a"/>
<rect x="741.60" y="1086" width="6.85" height="34" fill="#f0555a"/>
<rect x="748.05" y="1086" width="6.85" height="34" fill="#e94141"/>
</g>
<rect x="625.5" y="1086" width="129.0" height="34" fill="none" stroke="#000" stroke-width="2"/>
<g font-family="'Liberation Sans', Arial, Helvetica, sans-serif" font-size="20.5" text-anchor="middle">
<text x="625.8" y="1144.9">-2</text><text x="690.3" y="1144.9">0</text><text x="754" y="1144.9">2</text>
</g>
<g font-family="'Liberation Sans', Arial, Helvetica, sans-serif" font-size="50">
<text x="-2.3" y="25.4">a</text>
<text x="843.1" y="25.4">c</text>
<text x="-3.5" y="1308.2">b</text>
</g>
<path d="M1063.1,195.4 L1185.6,195.4" fill="none" stroke="#939f7f" stroke-width="5.4" stroke-linecap="square" stroke-dasharray="9.91 20.71" stroke-dashoffset="4.96"/>
<path d="M1185.6,195.4 L1185.6,282.4" fill="none" stroke="#939f7f" stroke-width="5.4" stroke-linecap="square" stroke-dasharray="9.10 19.90" stroke-dashoffset="4.55"/>
<path d="M1185.6,282.4 L1550.0,282.4" fill="none" stroke="#939f7f" stroke-width="5.4" stroke-linecap="square" stroke-dasharray="9.78 20.58" stroke-dashoffset="4.89"/>
<path d="M1550.0,282.4 L1550.0,899.0" fill="none" stroke="#939f7f" stroke-width="5.4" stroke-linecap="square" stroke-dasharray="10.02 20.82" stroke-dashoffset="5.01"/>
<path d="M1550.0,899.0 L1466.7,899.0" fill="none" stroke="#939f7f" stroke-width="5.4" stroke-linecap="square" stroke-dasharray="8.48 19.28" stroke-dashoffset="4.24"/>
<path d="M1466.7,899.0 L1466.7,941.5" fill="none" stroke="#939f7f" stroke-width="5.4" stroke-linecap="square" stroke-dasharray="15.85 26.65" stroke-dashoffset="7.92"/>
<path d="M1466.7,941.5 L1078.3,941.5" fill="none" stroke="#939f7f" stroke-width="5.4" stroke-linecap="square" stroke-dasharray="9.54 20.34" stroke-dashoffset="4.77"/>
<path d="M1078.3,941.5 L1078.3,561.8" fill="none" stroke="#939f7f" stroke-width="5.4" stroke-linecap="square" stroke-dasharray="10.42 21.22" stroke-dashoffset="5.21"/>
<path d="M1078.3,561.8 L1063.1,561.8" fill="none" stroke="#939f7f" stroke-width="5.4" stroke-linecap="square"/>
<path d="M1063.1,561.8 L1063.1,195.4" fill="none" stroke="#939f7f" stroke-width="5.4" stroke-linecap="square" stroke-dasharray="9.87 20.67" stroke-dashoffset="4.93"/>
<rect x="1078.1" y="205.2" width="87.3" height="87.3" rx="10.5" ry="10.5" fill="#d9f6d3" stroke="#4d4d4d" stroke-width="1.15"/>
<rect x="1285.7" y="303.0" width="87.3" height="87.3" rx="10.5" ry="10.5" fill="#d6f5cf" stroke="#4d4d4d" stroke-width="1.15"/>
<rect x="1408.6" y="313.2" width="87.3" height="87.3" rx="10.5" ry="10.5" fill="#ffe0e4" stroke="#4d4d4d" stroke-width="1.15"/>
<rect x="1156.1" y="330.1" width="87.3" height="87.3" rx="10.5" ry="10.5" fill="#d9f6d3" stroke="#4d4d4d" stroke-width="1.15"/>
<rect x="1448.2" y="421.3" width="87.3" height="87.3" rx="10.5" ry="10.5" fill="#ffd7de" stroke="#4d4d4d" stroke-width="1.15"/>
<rect x="1084.4" y="437.6" width="87.3" height="87.3" rx="10.5" ry="10.5" fill="#d9f6d3" stroke="#4d4d4d" stroke-width="1.15"/>
<rect x="1279.9" y="484.5" width="87.3" height="87.3" rx="10.5" ry="10.5" fill="#fdb6bb" stroke="#4d4d4d" stroke-width="1.15"/>
<rect x="960.9" y="588.7" width="87.3" height="87.3" rx="10.5" ry="10.5" fill="#f2fbf1" stroke="#4d4d4d" stroke-width="1.15"/>
<rect x="1111.7" y="578.8" width="87.3" height="87.3" rx="10.5" ry="10.5" fill="#feeef0" stroke="#4d4d4d" stroke-width="1.15"/>
<rect x="1234.5" y="658.4" width="87.3" height="87.3" rx="10.5" ry="10.5" fill="#fdb6bb" stroke="#4d4d4d" stroke-width="1.15"/>
<rect x="1378.0" y="674.2" width="87.3" height="87.3" rx="10.5" ry="10.5" fill="#feeef0" stroke="#4d4d4d" stroke-width="1.15"/>
<rect x="966.4" y="721.4" width="87.3" height="87.3" rx="10.5" ry="10.5" fill="#f2fbf1" stroke="#4d4d4d" stroke-width="1.15"/>
<rect x="1093.5" y="763.6" width="87.3" height="87.3" rx="10.5" ry="10.5" fill="#f2fbf1" stroke="#4d4d4d" stroke-width="1.15"/>
<rect x="1430.8" y="782.1" width="87.3" height="87.3" rx="10.5" ry="10.5" fill="#ecf9e9" stroke="#4d4d4d" stroke-width="1.15"/>
<rect x="1206.0" y="837.6" width="87.3" height="87.3" rx="10.5" ry="10.5" fill="#f2fbf1" stroke="#4d4d4d" stroke-width="1.15"/>
<rect x="1323.3" y="847.7" width="87.3" height="87.3" rx="10.5" ry="10.5" fill="#dcf6d7" stroke="#4d4d4d" stroke-width="1.15"/>
<rect x="1181.3" y="404.6" width="18.2" height="8.0" fill="#3450a8"/>
<rect x="1217.6" y="404.6" width="18.8" height="8.0" fill="#3e9a2a"/>
<rect x="1109.5" y="481.9" width="18.4" height="37.6" fill="#3450a8"/>
<rect x="1455.0" y="488.4" width="18.8" height="14.2" fill="#de3121"/>
<rect x="1023.2" y="663.4" width="18.2" height="7.1" fill="#3e9a2a"/>
<rect x="1278.4" y="733.6" width="18.4" height="7.3" fill="#f5923c"/>
<rect x="1438.0" y="849.0" width="18.2" height="15.0" fill="#de3121"/>
<rect x="1475.0" y="857.0" width="18.3" height="7.0" fill="#f5923c"/>
<rect x="1493.3" y="849.0" width="18.3" height="15.0" fill="#3e9a2a"/>
<rect x="1231.1" y="904.9" width="18.7" height="14.9" fill="#3450a8"/>
<g font-family="'Liberation Sans', Arial, Helvetica, sans-serif">
<text x="1070.0" y="258.3" font-size="28.0" font-weight="bold" letter-spacing="0.54" fill="#000">NCOR1</text>
<text x="1278.5" y="356.2" font-size="28.0" font-weight="bold" letter-spacing="1.23" fill="#000">FOXO1</text>
<text x="1391.3" y="366.4" font-size="28.0" font-weight="bold" letter-spacing="1.12" fill="#000">SEMA4C</text>
<text x="1136.4" y="382.8" font-size="28.0" font-weight="bold" letter-spacing="2.44" fill="#000">MAP3K3</text>
<text x="1433.2" y="473.9" font-size="28.0" font-weight="bold" letter-spacing="0.74" fill="#000">PTGER4</text>
<text x="1087.7" y="490.8" font-size="28.0" font-weight="bold" letter-spacing="3.23" fill="#000">DVL3</text>
<text x="1284.4" y="537.0" font-size="28.0" font-weight="bold" letter-spacing="1.40" fill="#000">SKP1</text>
<text x="943.5" y="642.1" font-size="28.0" font-weight="bold" letter-spacing="2.14" fill="#000">LSM14A</text>
<text x="1112.5" y="632.0" font-size="28.0" font-weight="bold" letter-spacing="0.82" fill="#000">TIRAP</text>
<text x="1228.0" y="711.0" font-size="28.0" font-weight="bold" letter-spacing="1.93" fill="#000">DUSP6</text>
<text x="1353.5" y="727.7" font-size="28.0" font-weight="bold" letter-spacing="1.37" fill="#000">RPS6KA3</text>
<text x="963.8" y="775.3" font-size="28.0" font-weight="bold" letter-spacing="1.10" fill="#000">TRAF3</text>
<text x="1053.1" y="817.3" font-size="28.0" font-weight="bold" letter-spacing="1.44" fill="#000">MAPKAPK2</text>
<text x="1418.3" y="835.0" font-size="28.0" font-weight="bold" letter-spacing="1.74" fill="#000">DAB2IP</text>
<text x="1209.9" y="891.2" font-size="28.0" font-weight="bold" letter-spacing="0.63" fill="#000">BTRC</text>
<text x="1304.0" y="899.0" font-size="28.0" font-weight="bold" letter-spacing="2.32" fill="#000">MAP2K7</text>
</g>
<g>
<line x1="938.3" y1="392.7" x2="1067.3" y2="291.4" stroke="rgba(118,145,218,0.48)" stroke-width="12" stroke-linecap="round"/>
<line x1="1053.6" y1="269.1" x2="1085.8" y2="309.9" stroke="rgba(118,145,218,0.48)" stroke-width="6.5"/>
<line x1="938.3" y1="392.7" x2="1142.3" y2="372.7" stroke="rgba(118,145,218,0.48)" stroke-width="12" stroke-linecap="round"/>
<line x1="1142.8" y1="346.5" x2="1147.8" y2="398.3" stroke="rgba(118,145,218,0.48)" stroke-width="6.5"/>
<line x1="938.3" y1="392.7" x2="1071.6" y2="454.4" stroke="rgba(118,145,218,0.48)" stroke-width="12" stroke-linecap="round"/>
<line x1="1085.2" y1="432.1" x2="1063.4" y2="479.3" stroke="rgba(118,145,218,0.48)" stroke-width="6.5"/>
<line x1="938.3" y1="392.7" x2="988.5" y2="575.1" stroke="rgba(118,145,218,0.48)" stroke-width="12" stroke-linecap="round"/>
<line x1="1014.4" y1="571.1" x2="964.2" y2="584.9" stroke="rgba(118,145,218,0.48)" stroke-width="6.5"/>
<line x1="1329.0" y1="196.5" x2="1329.7" y2="290.0" stroke="rgba(118,145,218,0.48)" stroke-width="12" stroke-linecap="round"/>
<line x1="1355.7" y1="292.8" x2="1303.7" y2="293.2" stroke="rgba(118,145,218,0.48)" stroke-width="6.5"/>
<line x1="1557.3" y1="223.5" x2="1494.8" y2="302.3" stroke="rgba(118,145,218,0.48)" stroke-width="12" stroke-linecap="round"/>
<line x1="1513.3" y1="320.9" x2="1472.5" y2="288.5" stroke="rgba(118,145,218,0.48)" stroke-width="6.5"/>
<line x1="1647.0" y1="388.5" x2="1547.7" y2="438.5" stroke="rgba(118,145,218,0.48)" stroke-width="12" stroke-linecap="round"/>
<line x1="1556.7" y1="463.1" x2="1533.3" y2="416.7" stroke="rgba(118,145,218,0.48)" stroke-width="6.5"/>
<line x1="1583.2" y1="604.5" x2="1380.4" y2="544.9" stroke="rgba(118,145,218,0.48)" stroke-width="12" stroke-linecap="round"/>
<line x1="1370.2" y1="569.0" x2="1384.8" y2="519.2" stroke="rgba(118,145,218,0.48)" stroke-width="6.5"/>
<line x1="1583.2" y1="604.5" x2="1212.9" y2="620.4" stroke="rgba(118,145,218,0.48)" stroke-width="12" stroke-linecap="round"/>
<line x1="1211.0" y1="646.5" x2="1208.8" y2="594.5" stroke="rgba(118,145,218,0.48)" stroke-width="6.5"/>
<line x1="1583.2" y1="604.5" x2="1335.1" y2="683.4" stroke="rgba(118,145,218,0.48)" stroke-width="12" stroke-linecap="round"/>
<line x1="1340.1" y1="709.1" x2="1324.3" y2="659.5" stroke="rgba(118,145,218,0.48)" stroke-width="6.5"/>
<line x1="1583.2" y1="604.5" x2="1476.2" y2="679.6" stroke="rgba(118,145,218,0.48)" stroke-width="12" stroke-linecap="round"/>
<line x1="1488.6" y1="702.6" x2="1458.8" y2="660.0" stroke="rgba(118,145,218,0.48)" stroke-width="6.5"/>
<line x1="1626.3" y1="765.5" x2="1478.0" y2="732.6" stroke="rgba(118,145,218,0.48)" stroke-width="12" stroke-linecap="round"/>
<line x1="1469.5" y1="757.3" x2="1480.7" y2="706.5" stroke="rgba(118,145,218,0.48)" stroke-width="6.5"/>
<line x1="1035.2" y1="964.0" x2="1017.6" y2="822.7" stroke="rgba(118,145,218,0.48)" stroke-width="12" stroke-linecap="round"/>
<line x1="991.4" y1="822.9" x2="1043.0" y2="816.5" stroke="rgba(118,145,218,0.48)" stroke-width="6.5"/>
<line x1="1035.2" y1="964.0" x2="1100.8" y2="862.5" stroke="rgba(118,145,218,0.48)" stroke-width="12" stroke-linecap="round"/>
<line x1="1080.6" y1="845.9" x2="1124.2" y2="874.1" stroke="rgba(118,145,218,0.48)" stroke-width="6.5"/>
<line x1="1250.2" y1="1016.8" x2="1250.1" y2="937.0" stroke="rgba(118,145,218,0.48)" stroke-width="12" stroke-linecap="round"/>
<line x1="1224.1" y1="934.0" x2="1276.1" y2="934.0" stroke="rgba(118,145,218,0.48)" stroke-width="6.5"/>
<line x1="1505.0" y1="977.2" x2="1422.8" y2="924.6" stroke="rgba(118,145,218,0.48)" stroke-width="12" stroke-linecap="round"/>
<line x1="1406.3" y1="944.9" x2="1434.3" y2="901.1" stroke="rgba(118,145,218,0.48)" stroke-width="6.5"/>
<line x1="1505.0" y1="977.2" x2="1486.1" y2="881.8" stroke="rgba(118,145,218,0.48)" stroke-width="12" stroke-linecap="round"/>
<line x1="1460.0" y1="884.0" x2="1511.0" y2="873.8" stroke="rgba(118,145,218,0.48)" stroke-width="6.5"/>
</g>
<path d="M1329.0,153.0 L1372.5,240.0 L1285.5,240.0 Z" fill="#de3121" stroke="#4a4a4a" stroke-width="1.1" stroke-linejoin="miter"/>
<path d="M1557.3,180.0 L1600.8,267.0 L1513.8,267.0 Z" fill="#58bd0c" stroke="#4a4a4a" stroke-width="1.1" stroke-linejoin="miter"/>
<path d="M938.3,349.2 L981.8,436.2 L894.8,436.2 Z" fill="#de3121" stroke="#4a4a4a" stroke-width="1.1" stroke-linejoin="miter"/>
<path d="M1647.0,345.0 L1690.5,432.0 L1603.5,432.0 Z" fill="#58bd0c" stroke="#4a4a4a" stroke-width="1.1" stroke-linejoin="miter"/>
<path d="M1583.2,561.0 L1626.7,648.0 L1539.7,648.0 Z" fill="#58bd0c" stroke="#4a4a4a" stroke-width="1.1" stroke-linejoin="miter"/>
<path d="M1626.3,722.0 L1669.8,809.0 L1582.8,809.0 Z" fill="#58bd0c" stroke="#4a4a4a" stroke-width="1.1" stroke-linejoin="miter"/>
<path d="M1035.2,920.5 L1078.7,1007.5 L991.7,1007.5 Z" fill="#de3121" stroke="#4a4a4a" stroke-width="1.1" stroke-linejoin="miter"/>
<path d="M1250.2,973.3 L1293.7,1060.3 L1206.7,1060.3 Z" fill="#de3121" stroke="#4a4a4a" stroke-width="1.1" stroke-linejoin="miter"/>
<path d="M1505.0,933.7 L1548.5,1020.7 L1461.5,1020.7 Z" fill="#de3121" stroke="#4a4a4a" stroke-width="1.1" stroke-linejoin="miter"/>
<g font-family="'Liberation Sans', Arial, Helvetica, sans-serif">
<text x="1206.3" y="205.6" font-size="26.0" font-weight="bold" letter-spacing="3.21" fill="#000">hsa-miR-101-5p</text>
<text x="1434.6" y="232.5" font-size="26.0" font-weight="bold" letter-spacing="3.21" fill="#000">hsa-miR-615-5p</text>
<text x="844.7" y="401.9" font-size="26.0" font-weight="bold" letter-spacing="3.10" fill="#000">hsa-miR-618</text>
<text x="1530.5" y="397.2" font-size="26.0" font-weight="bold" letter-spacing="3.10" fill="#000">hsa-miR-3155a</text>
<text x="1484.9" y="613.8" font-size="26.0" font-weight="bold" letter-spacing="3.21" fill="#000">hsa-miR-548l</text>
<text x="1495.0" y="774.8" font-size="26.0" font-weight="bold" letter-spacing="3.18" fill="#000">hsa-miR-4722-5p</text>
<text x="894.6" y="972.9" font-size="26.0" font-weight="bold" letter-spacing="3.27" fill="#000">hsa-miR-4524a-3p</text>
<text x="1134.0" y="1024.9" font-size="26.0" font-weight="bold" letter-spacing="3.15" fill="#000">hsa-miR-1269a</text>
<text x="1401.4" y="986.0" font-size="26.0" font-weight="bold" letter-spacing="3.18" fill="#000">hsa-miR-663b</text>
<text x="950.0" y="143.7" font-size="27.5" font-weight="bold" letter-spacing="2.04" fill="#2e6b30">Stress-activated</text>
<text x="949.9" y="175.4" font-size="27.5" font-weight="bold" letter-spacing="1.92" fill="#2e6b30">MAPK cascade</text>
<text x="1567.8" y="871.4" font-size="27.5" font-weight="bold" letter-spacing="2.17" fill="#ec6a22">Toll-like receptor <tspan dx="4">4</tspan></text>
<text x="1566.8" y="902.4" font-size="27.5" font-weight="bold" letter-spacing="1.99" fill="#ec6a22">signaling pathway</text>
</g>
<g opacity="0.6">
<path d="M931.5,544.8 L1255.4,544.8" fill="none" stroke="rgb(251,140,60)" stroke-width="5.4" stroke-linecap="square" stroke-dasharray="10.80 21.60" stroke-dashoffset="5.40"/>
<path d="M1255.4,544.8 L1255.4,463.7" fill="none" stroke="rgb(251,140,60)" stroke-width="5.4" stroke-linecap="square" stroke-dasharray="14.87 25.67" stroke-dashoffset="7.44"/>
<path d="M1255.4,463.7 L1391.5,463.7" fill="none" stroke="rgb(251,140,60)" stroke-width="5.4" stroke-linecap="square" stroke-dasharray="11.61 22.41" stroke-dashoffset="5.81"/>
<path d="M1391.5,463.7 L1391.5,524.2" fill="none" stroke="rgb(251,140,60)" stroke-width="5.4" stroke-linecap="square" stroke-dasharray="9.73 20.53" stroke-dashoffset="4.86"/>
<path d="M1391.5,524.2 L1541.4,524.2" fill="none" stroke="rgb(251,140,60)" stroke-width="5.4" stroke-linecap="square" stroke-dasharray="9.59 20.39" stroke-dashoffset="4.80"/>
<path d="M1541.4,524.2 L1541.4,920.9" fill="none" stroke="rgb(251,140,60)" stroke-width="5.4" stroke-linecap="square" stroke-dasharray="11.13 21.93" stroke-dashoffset="5.56"/>
<path d="M1541.4,920.9 L1448.0,920.9" fill="none" stroke="rgb(251,140,60)" stroke-width="5.4" stroke-linecap="square" stroke-dasharray="10.17 20.97" stroke-dashoffset="5.08"/>
<path d="M1448.0,920.9 L1448.0,954.6" fill="none" stroke="rgb(251,140,60)" stroke-width="5.4" stroke-linecap="square" stroke-dasharray="11.45 22.25" stroke-dashoffset="5.73"/>
<path d="M1448.0,954.6 L1179.5,954.6" fill="none" stroke="rgb(251,140,60)" stroke-width="5.4" stroke-linecap="square" stroke-dasharray="11.38 22.18" stroke-dashoffset="5.69"/>
<path d="M1179.5,954.6 L1179.5,881.6" fill="none" stroke="rgb(251,140,60)" stroke-width="5.4" stroke-linecap="square" stroke-dasharray="12.85 23.65" stroke-dashoffset="6.42"/>
<path d="M1179.5,881.6 L931.8,881.6" fill="none" stroke="rgb(251,140,60)" stroke-width="5.4" stroke-linecap="square" stroke-dasharray="10.08 20.88" stroke-dashoffset="5.04"/>
<path d="M931.8,881.6 L931.5,544.8" fill="none" stroke="rgb(251,140,60)" stroke-width="5.4" stroke-linecap="square" stroke-dasharray="11.44 22.24" stroke-dashoffset="5.72"/>
</g>
<g font-family="'Liberation Sans', Arial, Helvetica, sans-serif" text-anchor="middle">
<text x="1063.7" y="1075" font-size="31" letter-spacing="-1.8">Gene expression</text>
</g>
<g font-family="'Liberation Sans', Arial, Helvetica, sans-serif">
<text x="945.6" y="1114.9" font-size="31" letter-spacing="0">log</text>
<text x="991.6" y="1123.7" font-size="21">2</text>
<text x="1006" y="1114.9" font-size="31" letter-spacing="0.45">(fold change)</text>
</g>
<g shape-rendering="crispEdges">
<rect x="935.60" y="1133.0" width="26.74" height="44.7" fill="#5bbe0e"/>
<rect x="961.94" y="1133.0" width="26.74" height="44.7" fill="#6fc52a"/>
<rect x="988.28" y="1133.0" width="26.74" height="44.7" fill="#8ed863"/>
<rect x="1014.62" y="1133.0" width="26.74" height="44.7" fill="#b4eba0"/>
<rect x="1040.96" y="1133.0" width="26.74" height="44.7" fill="#d5f5d0"/>
<rect x="1067.30" y="1133.0" width="26.74" height="44.7" fill="#ffccd0"/>
<rect x="1093.64" y="1133.0" width="26.74" height="44.7" fill="#fea0a5"/>
<rect x="1119.98" y="1133.0" width="26.74" height="44.7" fill="#f96b70"/>
<rect x="1146.32" y="1133.0" width="26.74" height="44.7" fill="#ea4444"/>
<rect x="1172.66" y="1133.0" width="26.74" height="44.7" fill="#de3421"/>
</g>
<rect x="935.6" y="1133.0" width="263.4" height="44.7" fill="none" stroke="#000" stroke-width="2.2"/>
<g font-family="'Liberation Sans', Arial, Helvetica, sans-serif" font-size="31" text-anchor="middle" letter-spacing="-1">
<text x="937" y="1218">-2</text><text x="1068" y="1218">0</text><text x="1199" y="1218">2</text>
</g>
<g font-family="'Liberation Sans', Arial, Helvetica, sans-serif" font-size="31" letter-spacing="-2">
<text x="1462.5" y="1095" text-anchor="middle" letter-spacing="-1.8">DNA methylation</text>
<text x="1282" y="1144">DMC</text><text x="1369" y="1144">hyper</text><text x="1525" y="1144">hypo</text>
<text x="1282" y="1186">DVC</text><text x="1369" y="1186">hyper</text><text x="1525" y="1186">hypo</text>
</g>
<rect x="1269.6" y="1110" width="376.4" height="89" fill="none" stroke="#000" stroke-width="2.2"/>
<rect x="1453" y="1131.8" width="36.6" height="9.7" fill="#de2e20"/>
<rect x="1599.5" y="1131.8" width="37.1" height="9.7" fill="#4563ae"/>
<rect x="1453" y="1171" width="36.6" height="9.3" fill="#f0621e"/>
<rect x="1599.5" y="1171" width="37.1" height="9.3" fill="#3a9a2c"/>
<g font-family="'Liberation Sans', Arial, Helvetica, sans-serif" fill="#000">
<rect x="149.6" y="1276.4" width="475.7" height="142.3" fill="none" stroke="#000" stroke-width="2.2"/>
<rect x="149.6" y="1433.0" width="475.7" height="410.0" fill="none" stroke="#000" stroke-width="2.2"/>
<rect x="640.0" y="1433.0" width="131.9" height="410.0" fill="none" stroke="#000" stroke-width="2.2"/>
<line x1="189.4" y1="1314.6" x2="225.7" y2="1314.6" stroke="#000" stroke-width="2.2" stroke-linecap="butt" stroke-dasharray="8 8"/>
<line x1="189.4" y1="1301.0" x2="189.4" y2="1328.2" stroke="#000" stroke-width="2.2" stroke-linecap="butt"/>
<line x1="409.9" y1="1314.6" x2="311.4" y2="1314.6" stroke="#000" stroke-width="2.2" stroke-linecap="butt" stroke-dasharray="8 8"/>
<line x1="409.9" y1="1301.0" x2="409.9" y2="1328.2" stroke="#000" stroke-width="2.2" stroke-linecap="butt"/>
<rect x="225.7" y="1288.2" width="85.7" height="52.8" fill="#df3020" stroke="#000" stroke-width="2.2"/>
<line x1="266.8" y1="1289.2" x2="266.8" y2="1340.0" stroke="#000" stroke-width="6" stroke-linecap="butt"/>
<line x1="137.6" y1="1314.6" x2="149.6" y2="1314.6" stroke="#000" stroke-width="2.2" stroke-linecap="butt"/>
<text transform="translate(118.6,1314.6) rotate(-90)" font-size="26.5" text-anchor="middle">RA</text>
<line x1="235.7" y1="1380.6" x2="296.2" y2="1380.6" stroke="#000" stroke-width="2.2" stroke-linecap="butt" stroke-dasharray="8 8"/>
<line x1="235.7" y1="1367.0" x2="235.7" y2="1394.2" stroke="#000" stroke-width="2.2" stroke-linecap="butt"/>
<line x1="470.5" y1="1380.6" x2="375.4" y2="1380.6" stroke="#000" stroke-width="2.2" stroke-linecap="butt" stroke-dasharray="8 8"/>
<line x1="470.5" y1="1367.0" x2="470.5" y2="1394.2" stroke="#000" stroke-width="2.2" stroke-linecap="butt"/>
<rect x="296.2" y="1354.2" width="79.2" height="52.8" fill="#3451a9" stroke="#000" stroke-width="2.2"/>
<line x1="314.4" y1="1355.2" x2="314.4" y2="1406.0" stroke="#000" stroke-width="6" stroke-linecap="butt"/>
<line x1="137.6" y1="1380.6" x2="149.6" y2="1380.6" stroke="#000" stroke-width="2.2" stroke-linecap="butt"/>
<text transform="translate(118.6,1380.6) rotate(-90)" font-size="26.5" text-anchor="middle">OA</text>
<circle cx="237" cy="1634.5" r="5.6" fill="#3451a9"/>
<circle cx="297.5" cy="1676.4" r="5.6" fill="#3451a9"/>
<circle cx="303.1" cy="1681.6" r="5.6" fill="#3451a9"/>
<circle cx="328.6" cy="1665.2" r="5.6" fill="#3451a9"/>
<circle cx="376.2" cy="1686.4" r="5.6" fill="#3451a9"/>
<circle cx="471.4" cy="1709.3" r="5.6" fill="#3451a9"/>
<circle cx="190.7" cy="1584.8" r="5.6" fill="#df3020"/>
<circle cx="227" cy="1568.8" r="5.6" fill="#df3020"/>
<circle cx="223.1" cy="1607.2" r="5.6" fill="#df3020"/>
<circle cx="236.1" cy="1638.8" r="5.6" fill="#df3020"/>
<circle cx="268.1" cy="1612.9" r="5.6" fill="#df3020"/>
<circle cx="289.3" cy="1602.9" r="5.6" fill="#df3020"/>
<circle cx="312.2" cy="1645.3" r="5.6" fill="#df3020"/>
<circle cx="334.3" cy="1619.4" r="5.6" fill="#df3020"/>
<circle cx="411.2" cy="1648.8" r="5.6" fill="#df3020"/>
<clipPath id="c1"><rect x="149.6" y="1433.0" width="475.69999999999993" height="410.0"/></clipPath>
<line x1="149.6" y1="1581.3" x2="625.3" y2="1766.5" stroke="#000" stroke-width="2.2" stroke-dasharray="8 8" clip-path="url(#c1)"/>
<line x1="166.9" y1="1843.0" x2="166.9" y2="1855.0" stroke="#000" stroke-width="2.2" stroke-linecap="butt"/>
<text x="166.9" y="1889.6" font-size="26.5" text-anchor="middle">0.0</text>
<line x1="255.0" y1="1843.0" x2="255.0" y2="1855.0" stroke="#000" stroke-width="2.2" stroke-linecap="butt"/>
<text x="255.0" y="1889.6" font-size="26.5" text-anchor="middle">0.2</text>
<line x1="343.2" y1="1843.0" x2="343.2" y2="1855.0" stroke="#000" stroke-width="2.2" stroke-linecap="butt"/>
<text x="343.2" y="1889.6" font-size="26.5" text-anchor="middle">0.4</text>
<line x1="431.3" y1="1843.0" x2="431.3" y2="1855.0" stroke="#000" stroke-width="2.2" stroke-linecap="butt"/>
<text x="431.3" y="1889.6" font-size="26.5" text-anchor="middle">0.6</text>
<line x1="519.5" y1="1843.0" x2="519.5" y2="1855.0" stroke="#000" stroke-width="2.2" stroke-linecap="butt"/>
<text x="519.5" y="1889.6" font-size="26.5" text-anchor="middle">0.8</text>
<line x1="607.6" y1="1843.0" x2="607.6" y2="1855.0" stroke="#000" stroke-width="2.2" stroke-linecap="butt"/>
<text x="607.6" y="1889.6" font-size="26.5" text-anchor="middle">1.0</text>
<line x1="137.6" y1="1827.8" x2="149.6" y2="1827.8" stroke="#000" stroke-width="2.2" stroke-linecap="butt"/>
<text transform="translate(118.6,1827.8) rotate(-90)" font-size="26.5" text-anchor="middle">16</text>
<line x1="137.6" y1="1751.9" x2="149.6" y2="1751.9" stroke="#000" stroke-width="2.2" stroke-linecap="butt"/>
<text transform="translate(118.6,1751.9) rotate(-90)" font-size="26.5" text-anchor="middle">18</text>
<line x1="137.6" y1="1676.0" x2="149.6" y2="1676.0" stroke="#000" stroke-width="2.2" stroke-linecap="butt"/>
<text transform="translate(118.6,1676.0) rotate(-90)" font-size="26.5" text-anchor="middle">20</text>
<line x1="137.6" y1="1600.1" x2="149.6" y2="1600.1" stroke="#000" stroke-width="2.2" stroke-linecap="butt"/>
<text transform="translate(118.6,1600.1) rotate(-90)" font-size="26.5" text-anchor="middle">22</text>
<line x1="137.6" y1="1524.2" x2="149.6" y2="1524.2" stroke="#000" stroke-width="2.2" stroke-linecap="butt"/>
<text transform="translate(118.6,1524.2) rotate(-90)" font-size="26.5" text-anchor="middle">24</text>
<line x1="137.6" y1="1448.3" x2="149.6" y2="1448.3" stroke="#000" stroke-width="2.2" stroke-linecap="butt"/>
<text transform="translate(118.6,1448.3) rotate(-90)" font-size="26.5" text-anchor="middle">26</text>
<line x1="675.2" y1="1709.3" x2="675.2" y2="1686.8" stroke="#000" stroke-width="2.2" stroke-linecap="butt" stroke-dasharray="8 8"/>
<line x1="662.2" y1="1709.3" x2="688.2" y2="1709.3" stroke="#000" stroke-width="2.2" stroke-linecap="butt"/>
<line x1="675.2" y1="1634.9" x2="675.2" y2="1665.2" stroke="#000" stroke-width="2.2" stroke-linecap="butt" stroke-dasharray="8 8"/>
<line x1="662.2" y1="1634.9" x2="688.2" y2="1634.9" stroke="#000" stroke-width="2.2" stroke-linecap="butt"/>
<rect x="650.7" y="1665.2" width="49.0" height="21.6" fill="#3451a9" stroke="#000" stroke-width="2.2"/>
<line x1="651.7" y1="1678.6" x2="698.7" y2="1678.6" stroke="#000" stroke-width="6" stroke-linecap="butt"/>
<line x1="675.2" y1="1843.0" x2="675.2" y2="1855.0" stroke="#000" stroke-width="2.2" stroke-linecap="butt"/>
<text x="675.2" y="1889.6" font-size="26.5" text-anchor="middle">OA</text>
<line x1="736.2" y1="1649.2" x2="736.2" y2="1639.2" stroke="#000" stroke-width="2.2" stroke-linecap="butt" stroke-dasharray="8 8"/>
<line x1="723.2" y1="1649.2" x2="749.2" y2="1649.2" stroke="#000" stroke-width="2.2" stroke-linecap="butt"/>
<line x1="736.2" y1="1568.8" x2="736.2" y2="1602.5" stroke="#000" stroke-width="2.2" stroke-linecap="butt" stroke-dasharray="8 8"/>
<line x1="723.2" y1="1568.8" x2="749.2" y2="1568.8" stroke="#000" stroke-width="2.2" stroke-linecap="butt"/>
<rect x="711.7" y="1602.5" width="49.0" height="36.7" fill="#df3020" stroke="#000" stroke-width="2.2"/>
<line x1="712.7" y1="1612.4" x2="759.7" y2="1612.4" stroke="#000" stroke-width="6" stroke-linecap="butt"/>
<line x1="736.2" y1="1843.0" x2="736.2" y2="1855.0" stroke="#000" stroke-width="2.2" stroke-linecap="butt"/>
<text x="736.2" y="1889.6" font-size="26.5" text-anchor="middle">RA</text>
<text transform="translate(167.8,1474.0) scale(1,1)" font-size="26.5"><tspan font-style="italic">r</tspan> = -0.764</text>
<text x="385.5" y="1950.4" font-size="32" text-anchor="middle">Methylation (chr11:122,025,419)</text>
<text transform="translate(25.9,1648.6) rotate(-90)" font-size="32" text-anchor="middle">log<tspan font-size="24.5" dx="3.1" dy="11.8">2</tspan><tspan dx="0.9" dy="-11.8">(read count of</tspan></text>
<text transform="translate(64.1,1644.2) rotate(-90)" font-size="32" text-anchor="middle">hsa-miR-100-5p)</text>
</g>
<g font-family="'Liberation Sans', Arial, Helvetica, sans-serif" fill="#000">
<rect x="1123.8" y="1275.9" width="476.0" height="142.9" fill="none" stroke="#000" stroke-width="2.2"/>
<rect x="1123.8" y="1432.2" width="476.0" height="410.9" fill="none" stroke="#000" stroke-width="2.2"/>
<rect x="1613.3" y="1432.2" width="133.2" height="410.9" fill="none" stroke="#000" stroke-width="2.2"/>
<line x1="1531.0" y1="1314.4" x2="1506.5" y2="1314.4" stroke="#000" stroke-width="2.2" stroke-linecap="butt" stroke-dasharray="8 8"/>
<line x1="1531.0" y1="1300.8" x2="1531.0" y2="1328.0" stroke="#000" stroke-width="2.2" stroke-linecap="butt"/>
<rect x="1449.2" y="1288.0" width="57.3" height="52.8" fill="#df3020" stroke="#000" stroke-width="2.2"/>
<line x1="1496.4" y1="1289.0" x2="1496.4" y2="1339.8" stroke="#000" stroke-width="6" stroke-linecap="butt"/>
<line x1="1111.8" y1="1314.4" x2="1123.8" y2="1314.4" stroke="#000" stroke-width="2.2" stroke-linecap="butt"/>
<text transform="translate(1090.0,1314.4) rotate(-90)" font-size="26.5" text-anchor="middle">RA</text>
<line x1="1368.0" y1="1380.3" x2="1471.4" y2="1380.3" stroke="#000" stroke-width="2.2" stroke-linecap="butt" stroke-dasharray="8 8"/>
<line x1="1368.0" y1="1366.7" x2="1368.0" y2="1393.9" stroke="#000" stroke-width="2.2" stroke-linecap="butt"/>
<line x1="1582.0" y1="1380.3" x2="1544.0" y2="1380.3" stroke="#000" stroke-width="2.2" stroke-linecap="butt" stroke-dasharray="8 8"/>
<line x1="1582.0" y1="1366.7" x2="1582.0" y2="1393.9" stroke="#000" stroke-width="2.2" stroke-linecap="butt"/>
<rect x="1471.4" y="1353.9" width="72.6" height="52.8" fill="#3451a9" stroke="#000" stroke-width="2.2"/>
<line x1="1520.9" y1="1354.9" x2="1520.9" y2="1405.7" stroke="#000" stroke-width="6" stroke-linecap="butt"/>
<line x1="1111.8" y1="1380.3" x2="1123.8" y2="1380.3" stroke="#000" stroke-width="2.2" stroke-linecap="butt"/>
<text transform="translate(1090.0,1380.3) rotate(-90)" font-size="26.5" text-anchor="middle">OA</text>
<circle cx="1240.5" cy="1314.4" r="4.6" fill="none" stroke="#000" stroke-width="1.8"/>
<circle cx="1369.4" cy="1626.6" r="5.6" fill="#3451a9"/>
<circle cx="1472.8" cy="1605.9" r="5.6" fill="#3451a9"/>
<circle cx="1516.6" cy="1566" r="5.6" fill="#3451a9"/>
<circle cx="1527.7" cy="1539.5" r="5.6" fill="#3451a9"/>
<circle cx="1544.5" cy="1533.2" r="5.6" fill="#3451a9"/>
<circle cx="1582.5" cy="1564.5" r="5.6" fill="#3451a9"/>
<circle cx="1240.5" cy="1655" r="5.6" fill="#df3020"/>
<circle cx="1450.7" cy="1585.7" r="5.6" fill="#df3020"/>
<circle cx="1450.7" cy="1663.6" r="5.6" fill="#df3020"/>
<circle cx="1498.3" cy="1564.5" r="5.6" fill="#df3020"/>
<circle cx="1505.1" cy="1587.6" r="5.6" fill="#df3020"/>
<circle cx="1509.9" cy="1585.2" r="5.6" fill="#df3020"/>
<circle cx="1532" cy="1553" r="5.6" fill="#df3020"/>
<clipPath id="c2"><rect x="1123.8" y="1432.2" width="476.0" height="410.89999999999986"/></clipPath>
<line x1="1123.6" y1="1713.6" x2="1599.8" y2="1542.5" stroke="#000" stroke-width="2.2" stroke-dasharray="8 8" clip-path="url(#c2)"/>
<line x1="1141.4" y1="1843.1" x2="1141.4" y2="1855.1" stroke="#000" stroke-width="2.2" stroke-linecap="butt"/>
<text x="1141.4" y="1889.6" font-size="26.5" text-anchor="middle">0.0</text>
<line x1="1229.5" y1="1843.1" x2="1229.5" y2="1855.1" stroke="#000" stroke-width="2.2" stroke-linecap="butt"/>
<text x="1229.5" y="1889.6" font-size="26.5" text-anchor="middle">0.2</text>
<line x1="1317.6" y1="1843.1" x2="1317.6" y2="1855.1" stroke="#000" stroke-width="2.2" stroke-linecap="butt"/>
<text x="1317.6" y="1889.6" font-size="26.5" text-anchor="middle">0.4</text>
<line x1="1405.8" y1="1843.1" x2="1405.8" y2="1855.1" stroke="#000" stroke-width="2.2" stroke-linecap="butt"/>
<text x="1405.8" y="1889.6" font-size="26.5" text-anchor="middle">0.6</text>
<line x1="1493.9" y1="1843.1" x2="1493.9" y2="1855.1" stroke="#000" stroke-width="2.2" stroke-linecap="butt"/>
<text x="1493.9" y="1889.6" font-size="26.5" text-anchor="middle">0.8</text>
<line x1="1582.0" y1="1843.1" x2="1582.0" y2="1855.1" stroke="#000" stroke-width="2.2" stroke-linecap="butt"/>
<text x="1582.0" y="1889.6" font-size="26.5" text-anchor="middle">1.0</text>
<line x1="1111.8" y1="1827.7" x2="1123.8" y2="1827.7" stroke="#000" stroke-width="2.2" stroke-linecap="butt"/>
<text transform="translate(1090.0,1827.7) rotate(-90)" font-size="26.5" text-anchor="middle">2</text>
<line x1="1111.8" y1="1751.9" x2="1123.8" y2="1751.9" stroke="#000" stroke-width="2.2" stroke-linecap="butt"/>
<text transform="translate(1090.0,1751.9) rotate(-90)" font-size="26.5" text-anchor="middle">4</text>
<line x1="1111.8" y1="1676.1" x2="1123.8" y2="1676.1" stroke="#000" stroke-width="2.2" stroke-linecap="butt"/>
<text transform="translate(1090.0,1676.1) rotate(-90)" font-size="26.5" text-anchor="middle">6</text>
<line x1="1111.8" y1="1600.2" x2="1123.8" y2="1600.2" stroke="#000" stroke-width="2.2" stroke-linecap="butt"/>
<text transform="translate(1090.0,1600.2) rotate(-90)" font-size="26.5" text-anchor="middle">8</text>
<line x1="1111.8" y1="1524.4" x2="1123.8" y2="1524.4" stroke="#000" stroke-width="2.2" stroke-linecap="butt"/>
<text transform="translate(1090.0,1524.4) rotate(-90)" font-size="26.5" text-anchor="middle">10</text>
<line x1="1111.8" y1="1448.6" x2="1123.8" y2="1448.6" stroke="#000" stroke-width="2.2" stroke-linecap="butt"/>
<text transform="translate(1090.0,1448.6) rotate(-90)" font-size="26.5" text-anchor="middle">12</text>
<line x1="1649.6" y1="1626.6" x2="1649.6" y2="1605.9" stroke="#000" stroke-width="2.2" stroke-linecap="butt" stroke-dasharray="8 8"/>
<line x1="1636.6" y1="1626.6" x2="1662.6" y2="1626.6" stroke="#000" stroke-width="2.2" stroke-linecap="butt"/>
<line x1="1649.6" y1="1533.2" x2="1649.6" y2="1539.5" stroke="#000" stroke-width="2.2" stroke-linecap="butt" stroke-dasharray="8 8"/>
<line x1="1636.6" y1="1533.2" x2="1662.6" y2="1533.2" stroke="#000" stroke-width="2.2" stroke-linecap="butt"/>
<rect x="1625.1" y="1539.5" width="49.0" height="66.4" fill="#3451a9" stroke="#000" stroke-width="2.2"/>
<line x1="1626.1" y1="1565.0" x2="1673.1" y2="1565.0" stroke="#000" stroke-width="6" stroke-linecap="butt"/>
<line x1="1649.6" y1="1843.1" x2="1649.6" y2="1855.1" stroke="#000" stroke-width="2.2" stroke-linecap="butt"/>
<text x="1649.6" y="1889.6" font-size="26.5" text-anchor="middle">OA</text>
<line x1="1710.3" y1="1663.6" x2="1710.3" y2="1620.8" stroke="#000" stroke-width="2.2" stroke-linecap="butt" stroke-dasharray="8 8"/>
<line x1="1697.3" y1="1663.6" x2="1723.3" y2="1663.6" stroke="#000" stroke-width="2.2" stroke-linecap="butt"/>
<line x1="1710.3" y1="1553.0" x2="1710.3" y2="1575.1" stroke="#000" stroke-width="2.2" stroke-linecap="butt" stroke-dasharray="8 8"/>
<line x1="1697.3" y1="1553.0" x2="1723.3" y2="1553.0" stroke="#000" stroke-width="2.2" stroke-linecap="butt"/>
<rect x="1685.8" y="1575.1" width="49.0" height="45.7" fill="#df3020" stroke="#000" stroke-width="2.2"/>
<line x1="1686.8" y1="1585.2" x2="1733.8" y2="1585.2" stroke="#000" stroke-width="6" stroke-linecap="butt"/>
<line x1="1710.3" y1="1843.1" x2="1710.3" y2="1855.1" stroke="#000" stroke-width="2.2" stroke-linecap="butt"/>
<text x="1710.3" y="1889.6" font-size="26.5" text-anchor="middle">RA</text>
<text transform="translate(1141.7,1471.7) scale(0.916,1)" font-size="26.5"><tspan font-style="italic">r</tspan> = 0.878</text>
<text x="1366.0" y="1950.4" font-size="32" text-anchor="middle">Methylation (chr12:54,422,821)</text>
<text transform="translate(996.8,1648.6) rotate(-90)" font-size="32" text-anchor="middle">log<tspan font-size="24.5" dx="3.1" dy="18.8">2</tspan><tspan dx="0.9" dy="-18.8">(read count of</tspan></text>
<text transform="translate(1035.0,1644.2) rotate(-90)" font-size="32" text-anchor="middle">hsa-miR-615-5p)</text>
</g>
</svg></body></html>
